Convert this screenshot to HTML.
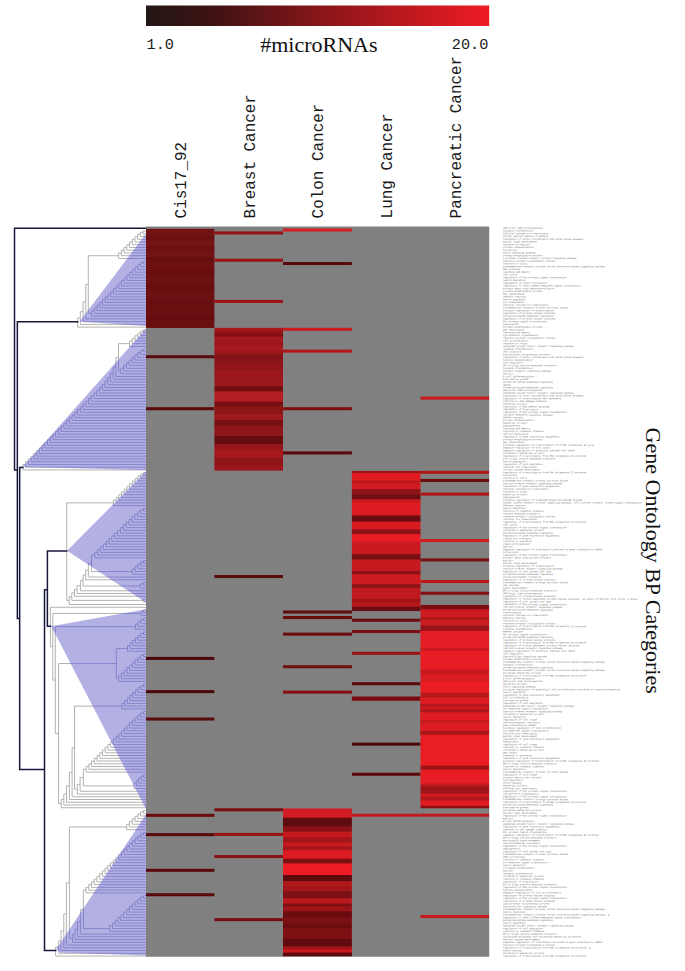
<!DOCTYPE html>
<html lang="en"><head><meta charset="utf-8"><title>microRNA target GO BP heatmap</title>
<style>html,body{margin:0;padding:0;background:#fff}body{width:685px;height:971px;overflow:hidden}svg{display:block}.m{font-family:"Liberation Mono","DejaVu Sans Mono",monospace;fill:#1a1a1a}.s{font-family:"Liberation Serif","DejaVu Serif",serif;fill:#111}.t{font-family:"Liberation Mono","DejaVu Sans Mono",monospace;font-size:23.8px;fill:#585858}</style></head><body>
<svg width="685" height="971" viewBox="0 0 685 971">
<defs><linearGradient id="cb" x1="0" y1="0" x2="1" y2="0"><stop offset="0" stop-color="#221715"/><stop offset="0.2" stop-color="#3f1213"/><stop offset="0.5" stop-color="#861619"/><stop offset="1" stop-color="#ed1c24"/></linearGradient>
<clipPath id="tc"><polygon points="79.6,321.5 146.0,233.8 146.0,326.0"/><polygon points="22.9,467.0 146.0,328.6 146.0,470.0"/><polygon points="67.1,550.8 146.0,471.2 146.0,602.6"/><polygon points="51.3,626.3 146.0,609.3 146.0,809.0"/><polygon points="56.2,949.3 146.0,814.5 146.0,955.6 60.0,952.5"/></clipPath>
<clipPath id="hc"><rect x="146" y="226.7" width="343.2" height="729.8"/></clipPath>
</defs>
<rect width="685" height="971" fill="#fff"/>
<rect x="146" y="5.5" width="343.2" height="20.5" fill="url(#cb)"/>
<text class="m" x="146.6" y="49" font-size="15.2">1.0</text>
<text class="m" x="451.8" y="49" font-size="15.2">20.0</text>
<text class="s" x="260.2" y="52.2" font-size="22">#microRNAs</text>
<text class="m" font-size="15.95" transform="translate(185.5,218.4) rotate(-90)">Cis17_92</text>
<text class="m" font-size="15.95" transform="translate(254.6,218.4) rotate(-90)">Breast Cancer</text>
<text class="m" font-size="15.95" transform="translate(323.4,218.4) rotate(-90)">Colon Cancer</text>
<text class="m" font-size="15.95" transform="translate(392.3,218.4) rotate(-90)">Lung Cancer</text>
<text class="m" font-size="15.95" transform="translate(460.6,218.4) rotate(-90)">Pancreatic Cancer</text>
<text class="s" font-size="22" transform="translate(646.4,427.6) rotate(90)">Gene Ontology BP Categories</text>
<path d="M77.60 318.02L77.60 327.12M77.60 318.02L80.30 318.02M80.30 311.67L80.30 324.37M80.30 311.67L83.10 311.67M83.10 301.72L83.10 321.63M83.10 301.72L85.80 301.72M85.80 284.55L85.80 318.88M85.80 284.55L88.30 284.55M88.30 255.72L88.30 313.39M88.30 255.72L118.60 255.72M118.60 252.97L118.60 258.46M118.60 252.97L121.31 252.97M121.31 250.23L121.31 255.71M121.31 250.23L124.02 250.23M124.02 247.50L124.02 252.97M124.02 247.50L126.73 247.50M126.73 244.77L126.73 250.22M126.73 244.77L129.44 244.77M129.44 242.07L129.44 247.47M129.44 242.07L132.16 242.07M132.16 239.41L132.16 244.73M132.16 239.41L134.87 239.41M134.87 236.83L134.87 241.98M134.87 236.83L137.58 236.83M137.58 234.43L137.58 239.24M137.58 234.43L140.29 234.43M140.29 232.37L140.29 236.49M140.29 232.37L143.00 232.37M143.00 231.00L143.00 233.74M143.00 231.00L146.00 231.00M143.00 233.74L146.00 233.74M140.29 236.49L146.00 236.49M137.58 239.24L146.00 239.24M134.87 241.98L146.00 241.98M132.16 244.73L146.00 244.73M129.44 247.47L146.00 247.47M126.73 250.22L146.00 250.22M124.02 252.97L146.00 252.97M121.31 255.71L146.00 255.71M118.60 258.46L146.00 258.46M88.30 313.39L91.60 313.39M91.60 310.64L91.60 316.13M91.60 310.64L94.32 310.64M94.32 307.90L94.32 313.39M94.32 307.90L97.04 307.90M97.04 305.15L97.04 310.64M97.04 305.15L99.76 305.15M99.76 302.40L99.76 307.90M99.76 302.40L102.48 302.40M102.48 299.66L102.48 305.15M102.48 299.66L105.21 299.66M105.21 296.91L105.21 302.40M105.21 296.91L107.93 296.91M107.93 294.16L107.93 299.66M107.93 294.16L110.65 294.16M110.65 291.42L110.65 296.91M110.65 291.42L113.37 291.42M113.37 288.67L113.37 294.16M113.37 288.67L116.09 288.67M116.09 285.93L116.09 291.42M116.09 285.93L118.81 285.93M118.81 283.18L118.81 288.67M118.81 283.18L121.53 283.18M121.53 280.44L121.53 285.92M121.53 280.44L124.25 280.44M124.25 277.71L124.25 283.18M124.25 277.71L126.97 277.71M126.97 274.98L126.97 280.43M126.97 274.98L129.69 274.98M129.69 272.28L129.69 277.69M129.69 272.28L132.42 272.28M132.42 269.62L132.42 274.94M132.42 269.62L135.14 269.62M135.14 267.04L135.14 272.19M135.14 267.04L137.86 267.04M137.86 264.64L137.86 269.45M137.86 264.64L140.58 264.64M140.58 262.58L140.58 266.70M140.58 262.58L143.30 262.58M143.30 261.21L143.30 263.95M143.30 261.21L146.00 261.21M143.30 263.95L146.00 263.95M140.58 266.70L146.00 266.70M137.86 269.45L146.00 269.45M135.14 272.19L146.00 272.19M132.42 274.94L146.00 274.94M129.69 277.69L146.00 277.69M126.97 280.43L146.00 280.43M124.25 283.18L146.00 283.18M121.53 285.92L146.00 285.92M118.81 288.67L146.00 288.67M116.09 291.42L146.00 291.42M113.37 294.16L146.00 294.16M110.65 296.91L146.00 296.91M107.93 299.66L146.00 299.66M105.21 302.40L146.00 302.40M102.48 305.15L146.00 305.15M99.76 307.90L146.00 307.90M97.04 310.64L146.00 310.64M94.32 313.39L146.00 313.39M91.60 316.13L146.00 316.13M85.80 318.88L146.00 318.88M83.10 321.63L146.00 321.63M80.30 324.37L146.00 324.37M77.60 327.12L146.00 327.12M22.90 464.44L22.90 469.93M22.90 464.44L25.64 464.44M25.64 461.69L25.64 467.19M25.64 461.69L28.37 461.69M28.37 458.95L28.37 464.44M28.37 458.95L31.11 458.95M31.11 456.20L31.11 461.69M31.11 456.20L33.84 456.20M33.84 453.45L33.84 458.95M33.84 453.45L36.58 453.45M36.58 450.71L36.58 456.20M36.58 450.71L39.31 450.71M39.31 447.96L39.31 453.45M39.31 447.96L42.05 447.96M42.05 445.22L42.05 450.71M42.05 445.22L44.78 445.22M44.78 442.47L44.78 447.96M44.78 442.47L47.52 442.47M47.52 439.72L47.52 445.22M47.52 439.72L50.25 439.72M50.25 436.98L50.25 442.47M50.25 436.98L52.99 436.98M52.99 434.23L52.99 439.72M52.99 434.23L55.72 434.23M55.72 431.48L55.72 436.98M55.72 431.48L58.46 431.48M58.46 428.74L58.46 434.23M58.46 428.74L61.19 428.74M61.19 425.99L61.19 431.48M61.19 425.99L63.93 425.99M63.93 423.24L63.93 428.74M63.93 423.24L66.66 423.24M66.66 420.50L66.66 425.99M66.66 420.50L69.40 420.50M69.40 417.75L69.40 423.24M69.40 417.75L72.14 417.75M72.14 415.00L72.14 420.50M72.14 415.00L74.87 415.00M74.87 412.26L74.87 417.75M74.87 412.26L77.61 412.26M77.61 409.51L77.61 415.01M77.61 409.51L80.34 409.51M80.34 406.76L80.34 412.26M80.34 406.76L83.08 406.76M83.08 404.02L83.08 409.51M83.08 404.02L85.81 404.02M85.81 401.27L85.81 406.77M85.81 401.27L88.55 401.27M88.55 398.51L88.55 404.02M88.55 398.51L91.28 398.51M91.28 395.75L91.28 401.27M91.28 395.75L94.02 395.75M94.02 392.98L94.02 398.53M94.02 392.98L96.75 392.98M96.75 390.18L96.75 395.78M96.75 390.18L99.49 390.18M99.49 387.33L99.49 393.03M99.49 387.33L102.22 387.33M102.22 384.37L102.22 390.29M102.22 384.37L104.96 384.37M104.96 381.19L104.96 387.54M104.96 381.19L107.69 381.19M107.69 377.59L107.69 384.79M107.69 377.59L110.43 377.59M110.43 373.13L110.43 382.05M110.43 373.13L113.16 373.13M113.16 366.96L113.16 379.30M113.16 366.96L115.90 366.96M115.90 357.35L115.90 376.56M115.90 357.35L118.50 357.35M118.50 343.64L118.50 371.07M118.50 343.64L129.50 343.64M129.50 340.94L129.50 346.35M129.50 340.94L132.28 340.94M132.28 338.28L132.28 343.60M132.28 338.28L135.06 338.28M135.06 335.70L135.06 340.85M135.06 335.70L137.84 335.70M137.84 333.30L137.84 338.11M137.84 333.30L140.62 333.30M140.62 331.24L140.62 335.36M140.62 331.24L143.40 331.24M143.40 329.87L143.40 332.61M143.40 329.87L146.00 329.87M143.40 332.61L146.00 332.61M140.62 335.36L146.00 335.36M137.84 338.11L146.00 338.11M135.06 340.85L146.00 340.85M132.28 343.60L146.00 343.60M129.50 346.35L146.00 346.35M118.50 371.07L120.70 371.07M120.70 368.33L120.70 373.81M120.70 368.33L123.53 368.33M123.53 365.59L123.53 371.06M123.53 365.59L126.35 365.59M126.35 362.87L126.35 368.32M126.35 362.87L129.18 362.87M129.18 360.16L129.18 365.57M129.18 360.16L132.00 360.16M132.00 357.50L132.00 362.82M132.00 357.50L134.83 357.50M134.83 354.93L134.83 360.08M134.83 354.93L137.65 354.93M137.65 352.52L137.65 357.33M137.65 352.52L140.48 352.52M140.48 350.46L140.48 354.58M140.48 350.46L143.30 350.46M143.30 349.09L143.30 351.84M143.30 349.09L146.00 349.09M143.30 351.84L146.00 351.84M140.48 354.58L146.00 354.58M137.65 357.33L146.00 357.33M134.83 360.08L146.00 360.08M132.00 362.82L146.00 362.82M129.18 365.57L146.00 365.57M126.35 368.32L146.00 368.32M123.53 371.06L146.00 371.06M120.70 373.81L146.00 373.81M115.90 376.56L146.00 376.56M113.16 379.30L146.00 379.30M110.43 382.05L146.00 382.05M107.69 384.79L146.00 384.79M104.96 387.54L146.00 387.54M102.22 390.29L146.00 390.29M99.49 393.03L146.00 393.03M96.75 395.78L146.00 395.78M94.02 398.53L146.00 398.53M91.28 401.27L146.00 401.27M88.55 404.02L146.00 404.02M85.81 406.77L146.00 406.77M83.08 409.51L146.00 409.51M80.34 412.26L146.00 412.26M77.61 415.01L146.00 415.01M74.87 417.75L146.00 417.75M72.14 420.50L146.00 420.50M69.40 423.24L146.00 423.24M66.66 425.99L146.00 425.99M63.93 428.74L146.00 428.74M61.19 431.48L146.00 431.48M58.46 434.23L146.00 434.23M55.72 436.98L146.00 436.98M52.99 439.72L146.00 439.72M50.25 442.47L146.00 442.47M47.52 445.22L146.00 445.22M44.78 447.96L146.00 447.96M42.05 450.71L146.00 450.71M39.31 453.45L146.00 453.45M36.58 456.20L146.00 456.20M33.84 458.95L146.00 458.95M31.11 461.69L146.00 461.69M28.37 464.44L146.00 464.44M25.64 467.19L146.00 467.19M22.90 469.93L146.00 469.93M66.70 502.89L66.70 600.58M66.70 502.89L113.40 502.89M113.40 500.14L113.40 505.64M113.40 500.14L116.11 500.14M116.11 497.40L116.11 502.89M116.11 497.40L118.82 497.40M118.82 494.66L118.82 500.14M118.82 494.66L121.53 494.66M121.53 491.92L121.53 497.40M121.53 491.92L124.24 491.92M124.24 489.18L124.24 494.65M124.24 489.18L126.95 489.18M126.95 486.45L126.95 491.90M126.95 486.45L129.65 486.45M129.65 483.75L129.65 489.16M129.65 483.75L132.36 483.75M132.36 481.09L132.36 486.41M132.36 481.09L135.07 481.09M135.07 478.52L135.07 483.67M135.07 478.52L137.78 478.52M137.78 476.11L137.78 480.92M137.78 476.11L140.49 476.11M140.49 474.05L140.49 478.17M140.49 474.05L143.20 474.05M143.20 472.68L143.20 475.43M143.20 472.68L146.00 472.68M143.20 475.43L146.00 475.43M140.49 478.17L146.00 478.17M137.78 480.92L146.00 480.92M135.07 483.67L146.00 483.67M132.36 486.41L146.00 486.41M129.65 489.16L146.00 489.16M126.95 491.90L146.00 491.90M124.24 494.65L146.00 494.65M121.53 497.40L146.00 497.40M118.82 500.14L146.00 500.14M116.11 502.89L146.00 502.89M113.40 505.64L146.00 505.64M66.70 600.58L69.20 600.58M69.20 596.65L69.20 604.51M69.20 596.65L71.80 596.65M71.80 592.92L71.80 600.39M71.80 592.92L74.50 592.92M74.50 589.57L74.50 596.27M74.50 589.57L77.10 589.57M77.10 585.63L77.10 593.52M77.10 585.63L80.40 585.63M80.40 580.48L80.40 590.77M80.40 580.48L83.00 580.48M83.00 574.99L83.00 585.97M83.00 574.99L85.60 574.99M85.60 570.20L85.60 579.79M85.60 570.20L88.30 570.20M88.30 563.35L88.30 577.04M88.30 563.35L91.60 563.35M91.60 555.07L91.60 571.64M91.60 555.07L94.80 555.07M94.80 552.33L94.80 557.82M94.80 552.33L97.65 552.33M97.65 549.58L97.65 555.07M97.65 549.58L100.51 549.58M100.51 546.83L100.51 552.33M100.51 546.83L103.36 546.83M103.36 544.09L103.36 549.58M103.36 544.09L106.21 544.09M106.21 541.34L106.21 546.83M106.21 541.34L109.06 541.34M109.06 538.59L109.06 544.09M109.06 538.59L111.92 538.59M111.92 535.85L111.92 541.34M111.92 535.85L114.77 535.85M114.77 533.10L114.77 538.59M114.77 533.10L117.62 533.10M117.62 530.36L117.62 535.85M117.62 530.36L120.48 530.36M120.48 527.62L120.48 533.10M120.48 527.62L123.33 527.62M123.33 524.88L123.33 530.35M123.33 524.88L126.18 524.88M126.18 522.16L126.18 527.61M126.18 522.16L129.04 522.16M129.04 519.45L129.04 524.86M129.04 519.45L131.89 519.45M131.89 516.79L131.89 522.11M131.89 516.79L134.74 516.79M134.74 514.22L134.74 519.37M134.74 514.22L137.59 514.22M137.59 511.82L137.59 516.62M137.59 511.82L140.45 511.82M140.45 509.76L140.45 513.88M140.45 509.76L143.30 509.76M143.30 508.38L143.30 511.13M143.30 508.38L146.00 508.38M143.30 511.13L146.00 511.13M140.45 513.88L146.00 513.88M137.59 516.62L146.00 516.62M134.74 519.37L146.00 519.37M131.89 522.11L146.00 522.11M129.04 524.86L146.00 524.86M126.18 527.61L146.00 527.61M123.33 530.35L146.00 530.35M120.48 533.10L146.00 533.10M117.62 535.85L146.00 535.85M114.77 538.59L146.00 538.59M111.92 541.34L146.00 541.34M109.06 544.09L146.00 544.09M106.21 546.83L146.00 546.83M103.36 549.58L146.00 549.58M100.51 552.33L146.00 552.33M97.65 555.07L146.00 555.07M94.80 557.82L146.00 557.82M91.60 571.64L132.30 571.64M132.30 568.98L132.30 574.30M132.30 568.98L135.05 568.98M135.05 566.40L135.05 571.55M135.05 566.40L137.80 566.40M137.80 564.00L137.80 568.80M137.80 564.00L140.55 564.00M140.55 561.94L140.55 566.06M140.55 561.94L143.30 561.94M143.30 560.56L143.30 563.31M143.30 560.56L146.00 560.56M143.30 563.31L146.00 563.31M140.55 566.06L146.00 566.06M137.80 568.80L146.00 568.80M135.05 571.55L146.00 571.55M132.30 574.30L146.00 574.30M88.30 577.04L146.00 577.04M85.60 579.79L146.00 579.79M83.00 585.97L140.20 585.97M140.20 583.91L140.20 588.03M140.20 583.91L143.30 583.91M143.30 582.54L143.30 585.28M143.30 582.54L146.00 582.54M143.30 585.28L146.00 585.28M140.20 588.03L146.00 588.03M80.40 590.77L146.00 590.77M77.10 593.52L146.00 593.52M74.50 596.27L146.00 596.27M71.80 600.39L143.30 600.39M143.30 599.01L143.30 601.76M143.30 599.01L146.00 599.01M143.30 601.76L146.00 601.76M69.20 604.51L146.00 604.51M50.40 607.25L50.40 646.78M50.40 607.25L146.00 607.25M50.40 646.78L52.80 646.78M52.80 613.43L52.80 680.12M52.80 613.43L141.20 613.43M141.20 611.37L141.20 615.49M141.20 611.37L143.30 611.37M143.30 610.00L143.30 612.75M143.30 610.00L146.00 610.00M143.30 612.75L146.00 612.75M141.20 615.49L146.00 615.49M52.80 680.12L55.30 680.12M55.30 626.65L55.30 733.60M55.30 626.65L135.50 626.65M135.50 624.07L135.50 629.22M135.50 624.07L138.10 624.07M138.10 621.67L138.10 626.48M138.10 621.67L140.70 621.67M140.70 619.61L140.70 623.73M140.70 619.61L143.30 619.61M143.30 618.24L143.30 620.99M143.30 618.24L146.00 618.24M143.30 620.99L146.00 620.99M140.70 623.73L146.00 623.73M138.10 626.48L146.00 626.48M135.50 629.22L146.00 629.22M55.30 733.60L58.50 733.60M58.50 663.57L58.50 803.63M58.50 663.57L116.30 663.57M116.30 648.47L116.30 678.66M116.30 648.47L127.50 648.47M127.50 645.75L127.50 651.20M127.50 645.75L130.13 645.75M130.13 643.04L130.13 648.45M130.13 643.04L132.77 643.04M132.77 640.38L132.77 645.70M132.77 640.38L135.40 640.38M135.40 637.81L135.40 642.96M135.40 637.81L138.03 637.81M138.03 635.40L138.03 640.21M138.03 635.40L140.67 635.40M140.67 633.34L140.67 637.46M140.67 633.34L143.30 633.34M143.30 631.97L143.30 634.72M143.30 631.97L146.00 631.97M143.30 634.72L146.00 634.72M140.67 637.46L146.00 637.46M138.03 640.21L146.00 640.21M135.40 642.96L146.00 642.96M132.77 645.70L146.00 645.70M130.13 648.45L146.00 648.45M127.50 651.20L146.00 651.20M116.30 678.66L118.70 678.66M118.70 675.92L118.70 681.41M118.70 675.92L121.43 675.92M121.43 673.18L121.43 678.66M121.43 673.18L124.17 673.18M124.17 670.44L124.17 675.91M124.17 670.44L126.90 670.44M126.90 667.72L126.90 673.17M126.90 667.72L129.63 667.72M129.63 665.01L129.63 670.42M129.63 665.01L132.37 665.01M132.37 662.35L132.37 667.67M132.37 662.35L135.10 662.35M135.10 659.78L135.10 664.93M135.10 659.78L137.83 659.78M137.83 657.38L137.83 662.18M137.83 657.38L140.57 657.38M140.57 655.32L140.57 659.43M140.57 655.32L143.30 655.32M143.30 653.94L143.30 656.69M143.30 653.94L146.00 653.94M143.30 656.69L146.00 656.69M140.57 659.43L146.00 659.43M137.83 662.18L146.00 662.18M135.10 664.93L146.00 664.93M132.37 667.67L146.00 667.67M129.63 670.42L146.00 670.42M126.90 673.17L146.00 673.17M124.17 675.91L146.00 675.91M121.43 678.66L146.00 678.66M118.70 681.41L146.00 681.41M58.50 803.63L61.20 803.63M61.20 799.52L61.20 807.74M61.20 799.52L63.80 799.52M63.80 794.05L63.80 804.99M63.80 794.05L66.50 794.05M66.50 785.86L66.50 802.25M66.50 785.86L69.40 785.86M69.40 772.21L69.40 799.50M69.40 772.21L72.10 772.21M72.10 747.67L72.10 796.75M72.10 747.67L74.50 747.67M74.50 706.13L74.50 789.21M74.50 706.13L121.90 706.13M121.90 703.39L121.90 708.87M121.90 703.39L124.58 703.39M124.58 700.65L124.58 706.12M124.58 700.65L127.25 700.65M127.25 697.93L127.25 703.38M127.25 697.93L129.93 697.93M129.93 695.22L129.93 700.63M129.93 695.22L132.60 695.22M132.60 692.56L132.60 697.88M132.60 692.56L135.28 692.56M135.28 689.99L135.28 695.14M135.28 689.99L137.95 689.99M137.95 687.59L137.95 692.39M137.95 687.59L140.62 687.59M140.62 685.53L140.62 689.65M140.62 685.53L143.30 685.53M143.30 684.15L143.30 686.90M143.30 684.15L146.00 684.15M143.30 686.90L146.00 686.90M140.62 689.65L146.00 689.65M137.95 692.39L146.00 692.39M135.28 695.14L146.00 695.14M132.60 697.88L146.00 697.88M129.93 700.63L146.00 700.63M127.25 703.38L146.00 703.38M124.58 706.12L146.00 706.12M121.90 708.87L146.00 708.87M74.50 789.21L77.30 789.21M77.30 784.42L77.30 794.01M77.30 784.42L80.10 784.42M80.10 777.57L80.10 791.26M80.10 777.57L83.40 777.57M83.40 769.29L83.40 785.86M83.40 769.29L86.20 769.29M86.20 766.54L86.20 772.04M86.20 766.54L88.92 766.54M88.92 763.80L88.92 769.29M88.92 763.80L91.64 763.80M91.64 761.05L91.64 766.54M91.64 761.05L94.36 761.05M94.36 758.31L94.36 763.80M94.36 758.31L97.08 758.31M97.08 755.56L97.08 761.05M97.08 755.56L99.80 755.56M99.80 752.81L99.80 758.31M99.80 752.81L102.51 752.81M102.51 750.07L102.51 755.56M102.51 750.07L105.23 750.07M105.23 747.32L105.23 752.81M105.23 747.32L107.95 747.32M107.95 744.57L107.95 750.07M107.95 744.57L110.67 744.57M110.67 741.83L110.67 747.32M110.67 741.83L113.39 741.83M113.39 739.08L113.39 744.57M113.39 739.08L116.11 739.08M116.11 736.34L116.11 741.83M116.11 736.34L118.83 736.34M118.83 733.59L118.83 739.08M118.83 733.59L121.55 733.59M121.55 730.85L121.55 736.33M121.55 730.85L124.27 730.85M124.27 728.12L124.27 733.59M124.27 728.12L126.99 728.12M126.99 725.39L126.99 730.84M126.99 725.39L129.70 725.39M129.70 722.69L129.70 728.09M129.70 722.69L132.42 722.69M132.42 720.03L132.42 725.35M132.42 720.03L135.14 720.03M135.14 717.45L135.14 722.60M135.14 717.45L137.86 717.45M137.86 715.05L137.86 719.86M137.86 715.05L140.58 715.05M140.58 712.99L140.58 717.11M140.58 712.99L143.30 712.99M143.30 711.62L143.30 714.36M143.30 711.62L146.00 711.62M143.30 714.36L146.00 714.36M140.58 717.11L146.00 717.11M137.86 719.86L146.00 719.86M135.14 722.60L146.00 722.60M132.42 725.35L146.00 725.35M129.70 728.09L146.00 728.09M126.99 730.84L146.00 730.84M124.27 733.59L146.00 733.59M121.55 736.33L146.00 736.33M118.83 739.08L146.00 739.08M116.11 741.83L146.00 741.83M113.39 744.57L146.00 744.57M110.67 747.32L146.00 747.32M107.95 750.07L146.00 750.07M105.23 752.81L146.00 752.81M102.51 755.56L146.00 755.56M99.80 758.31L146.00 758.31M97.08 761.05L146.00 761.05M94.36 763.80L146.00 763.80M91.64 766.54L146.00 766.54M88.92 769.29L146.00 769.29M86.20 772.04L146.00 772.04M83.40 785.86L134.00 785.86M134.00 783.19L134.00 788.52M134.00 783.19L136.32 783.19M136.32 780.62L136.32 785.77M136.32 780.62L138.65 780.62M138.65 778.22L138.65 783.02M138.65 778.22L140.98 778.22M140.98 776.16L140.98 780.28M140.98 776.16L143.30 776.16M143.30 774.78L143.30 777.53M143.30 774.78L146.00 774.78M143.30 777.53L146.00 777.53M140.98 780.28L146.00 780.28M138.65 783.02L146.00 783.02M136.32 785.77L146.00 785.77M134.00 788.52L146.00 788.52M80.10 791.26L146.00 791.26M77.30 794.01L146.00 794.01M72.10 796.75L146.00 796.75M69.40 799.50L146.00 799.50M66.50 802.25L146.00 802.25M63.80 804.99L146.00 804.99M61.20 807.74L146.00 807.74M55.60 947.00L55.60 956.05M55.60 947.00L58.70 947.00M58.70 940.70L58.70 953.30M58.70 940.70L61.00 940.70M61.00 930.84L61.00 950.55M61.00 930.84L63.80 930.84M63.80 913.87L63.80 947.81M63.80 913.87L66.40 913.87M66.40 882.68L66.40 945.06M66.40 882.68L69.40 882.68M69.40 826.99L69.40 938.37M69.40 826.99L126.70 826.99M126.70 824.26L126.70 829.71M126.70 824.26L129.47 824.26M129.47 821.56L129.47 826.97M129.47 821.56L132.23 821.56M132.23 818.90L132.23 824.22M132.23 818.90L135.00 818.90M135.00 816.32L135.00 821.47M135.00 816.32L137.77 816.32M137.77 813.92L137.77 818.73M137.77 813.92L140.53 813.92M140.53 811.86L140.53 815.98M140.53 811.86L143.30 811.86M143.30 810.49L143.30 813.23M143.30 810.49L146.00 810.49M143.30 813.23L146.00 813.23M140.53 815.98L146.00 815.98M137.77 818.73L146.00 818.73M135.00 821.47L146.00 821.47M132.23 824.22L146.00 824.22M129.47 826.97L146.00 826.97M126.70 829.71L146.00 829.71M69.40 938.37L72.50 938.37M72.50 934.42L72.50 942.31M72.50 934.42L75.00 934.42M75.00 929.27L75.00 939.57M75.00 929.27L77.60 929.27M77.60 921.72L77.60 936.82M77.60 921.72L80.40 921.72M80.40 909.36L80.40 934.07M80.40 909.36L83.40 909.36M83.40 890.13L83.40 928.58M83.40 890.13L86.00 890.13M86.00 887.39L86.00 892.88M86.00 887.39L88.73 887.39M88.73 884.64L88.73 890.13M88.73 884.64L91.46 884.64M91.46 881.89L91.46 887.39M91.46 881.89L94.19 881.89M94.19 879.15L94.19 884.64M94.19 879.15L96.91 879.15M96.91 876.40L96.91 881.89M96.91 876.40L99.64 876.40M99.64 873.65L99.64 879.15M99.64 873.65L102.37 873.65M102.37 870.91L102.37 876.40M102.37 870.91L105.10 870.91M105.10 868.16L105.10 873.65M105.10 868.16L107.83 868.16M107.83 865.42L107.83 870.91M107.83 865.42L110.56 865.42M110.56 862.67L110.56 868.16M110.56 862.67L113.29 862.67M113.29 859.92L113.29 865.41M113.29 859.92L116.01 859.92M116.01 857.18L116.01 862.67M116.01 857.18L118.74 857.18M118.74 854.43L118.74 859.92M118.74 854.43L121.47 854.43M121.47 851.69L121.47 857.18M121.47 851.69L124.20 851.69M124.20 848.96L124.20 854.43M124.20 848.96L126.93 848.96M126.93 846.23L126.93 851.68M126.93 846.23L129.66 846.23M129.66 843.53L129.66 848.94M129.66 843.53L132.39 843.53M132.39 840.87L132.39 846.19M132.39 840.87L135.11 840.87M135.11 838.29L135.11 843.44M135.11 838.29L137.84 838.29M137.84 835.89L137.84 840.70M137.84 835.89L140.57 835.89M140.57 833.83L140.57 837.95M140.57 833.83L143.30 833.83M143.30 832.46L143.30 835.20M143.30 832.46L146.00 832.46M143.30 835.20L146.00 835.20M140.57 837.95L146.00 837.95M137.84 840.70L146.00 840.70M135.11 843.44L146.00 843.44M132.39 846.19L146.00 846.19M129.66 848.94L146.00 848.94M126.93 851.68L146.00 851.68M124.20 854.43L146.00 854.43M121.47 857.18L146.00 857.18M118.74 859.92L146.00 859.92M116.01 862.67L146.00 862.67M113.29 865.41L146.00 865.41M110.56 868.16L146.00 868.16M107.83 870.91L146.00 870.91M105.10 873.65L146.00 873.65M102.37 876.40L146.00 876.40M99.64 879.15L146.00 879.15M96.91 881.89L146.00 881.89M94.19 884.64L146.00 884.64M91.46 887.39L146.00 887.39M88.73 890.13L146.00 890.13M86.00 892.88L146.00 892.88M83.40 928.58L109.70 928.58M109.70 925.84L109.70 931.33M109.70 925.84L112.50 925.84M112.50 923.09L112.50 928.58M112.50 923.09L115.30 923.09M115.30 920.35L115.30 925.84M115.30 920.35L118.10 920.35M118.10 917.60L118.10 923.09M118.10 917.60L120.90 917.60M120.90 914.86L120.90 920.34M120.90 914.86L123.70 914.86M123.70 912.13L123.70 917.60M123.70 912.13L126.50 912.13M126.50 909.40L126.50 914.85M126.50 909.40L129.30 909.40M129.30 906.70L129.30 912.10M129.30 906.70L132.10 906.70M132.10 904.04L132.10 909.36M132.10 904.04L134.90 904.04M134.90 901.46L134.90 906.61M134.90 901.46L137.70 901.46M137.70 899.06L137.70 903.86M137.70 899.06L140.50 899.06M140.50 897.00L140.50 901.12M140.50 897.00L143.30 897.00M143.30 895.63L143.30 898.37M143.30 895.63L146.00 895.63M143.30 898.37L146.00 898.37M140.50 901.12L146.00 901.12M137.70 903.86L146.00 903.86M134.90 906.61L146.00 906.61M132.10 909.36L146.00 909.36M129.30 912.10L146.00 912.10M126.50 914.85L146.00 914.85M123.70 917.60L146.00 917.60M120.90 920.34L146.00 920.34M118.10 923.09L146.00 923.09M115.30 925.84L146.00 925.84M112.50 928.58L146.00 928.58M109.70 931.33L146.00 931.33M80.40 934.07L146.00 934.07M77.60 936.82L146.00 936.82M75.00 939.57L146.00 939.57M72.50 942.31L146.00 942.31M66.40 945.06L146.00 945.06M63.80 947.81L146.00 947.81M61.00 950.55L146.00 950.55M58.70 953.30L146.00 953.30M55.60 956.05L146.00 956.05" fill="none" stroke="#b2b2ae" stroke-width="1"/>
<polygon points="79.6,321.5 146.0,233.8 146.0,326.0" fill="#b3b1e4"/>
<polygon points="22.9,467.0 146.0,328.6 146.0,470.0" fill="#b3b1e4"/>
<polygon points="67.1,550.8 146.0,471.2 146.0,602.6" fill="#b3b1e4"/>
<polygon points="51.3,626.3 146.0,609.3 146.0,809.0" fill="#b3b1e4"/>
<polygon points="56.2,949.3 146.0,814.5 146.0,955.6 60.0,952.5" fill="#b3b1e4"/>
<path d="M77.60 318.02L77.60 327.12M77.60 318.02L80.30 318.02M80.30 311.67L80.30 324.37M80.30 311.67L83.10 311.67M83.10 301.72L83.10 321.63M83.10 301.72L85.80 301.72M85.80 284.55L85.80 318.88M85.80 284.55L88.30 284.55M88.30 255.72L88.30 313.39M88.30 255.72L118.60 255.72M118.60 252.97L118.60 258.46M118.60 252.97L121.31 252.97M121.31 250.23L121.31 255.71M121.31 250.23L124.02 250.23M124.02 247.50L124.02 252.97M124.02 247.50L126.73 247.50M126.73 244.77L126.73 250.22M126.73 244.77L129.44 244.77M129.44 242.07L129.44 247.47M129.44 242.07L132.16 242.07M132.16 239.41L132.16 244.73M132.16 239.41L134.87 239.41M134.87 236.83L134.87 241.98M134.87 236.83L137.58 236.83M137.58 234.43L137.58 239.24M137.58 234.43L140.29 234.43M140.29 232.37L140.29 236.49M140.29 232.37L143.00 232.37M143.00 231.00L143.00 233.74M143.00 231.00L146.00 231.00M143.00 233.74L146.00 233.74M140.29 236.49L146.00 236.49M137.58 239.24L146.00 239.24M134.87 241.98L146.00 241.98M132.16 244.73L146.00 244.73M129.44 247.47L146.00 247.47M126.73 250.22L146.00 250.22M124.02 252.97L146.00 252.97M121.31 255.71L146.00 255.71M118.60 258.46L146.00 258.46M88.30 313.39L91.60 313.39M91.60 310.64L91.60 316.13M91.60 310.64L94.32 310.64M94.32 307.90L94.32 313.39M94.32 307.90L97.04 307.90M97.04 305.15L97.04 310.64M97.04 305.15L99.76 305.15M99.76 302.40L99.76 307.90M99.76 302.40L102.48 302.40M102.48 299.66L102.48 305.15M102.48 299.66L105.21 299.66M105.21 296.91L105.21 302.40M105.21 296.91L107.93 296.91M107.93 294.16L107.93 299.66M107.93 294.16L110.65 294.16M110.65 291.42L110.65 296.91M110.65 291.42L113.37 291.42M113.37 288.67L113.37 294.16M113.37 288.67L116.09 288.67M116.09 285.93L116.09 291.42M116.09 285.93L118.81 285.93M118.81 283.18L118.81 288.67M118.81 283.18L121.53 283.18M121.53 280.44L121.53 285.92M121.53 280.44L124.25 280.44M124.25 277.71L124.25 283.18M124.25 277.71L126.97 277.71M126.97 274.98L126.97 280.43M126.97 274.98L129.69 274.98M129.69 272.28L129.69 277.69M129.69 272.28L132.42 272.28M132.42 269.62L132.42 274.94M132.42 269.62L135.14 269.62M135.14 267.04L135.14 272.19M135.14 267.04L137.86 267.04M137.86 264.64L137.86 269.45M137.86 264.64L140.58 264.64M140.58 262.58L140.58 266.70M140.58 262.58L143.30 262.58M143.30 261.21L143.30 263.95M143.30 261.21L146.00 261.21M143.30 263.95L146.00 263.95M140.58 266.70L146.00 266.70M137.86 269.45L146.00 269.45M135.14 272.19L146.00 272.19M132.42 274.94L146.00 274.94M129.69 277.69L146.00 277.69M126.97 280.43L146.00 280.43M124.25 283.18L146.00 283.18M121.53 285.92L146.00 285.92M118.81 288.67L146.00 288.67M116.09 291.42L146.00 291.42M113.37 294.16L146.00 294.16M110.65 296.91L146.00 296.91M107.93 299.66L146.00 299.66M105.21 302.40L146.00 302.40M102.48 305.15L146.00 305.15M99.76 307.90L146.00 307.90M97.04 310.64L146.00 310.64M94.32 313.39L146.00 313.39M91.60 316.13L146.00 316.13M85.80 318.88L146.00 318.88M83.10 321.63L146.00 321.63M80.30 324.37L146.00 324.37M77.60 327.12L146.00 327.12M22.90 464.44L22.90 469.93M22.90 464.44L25.64 464.44M25.64 461.69L25.64 467.19M25.64 461.69L28.37 461.69M28.37 458.95L28.37 464.44M28.37 458.95L31.11 458.95M31.11 456.20L31.11 461.69M31.11 456.20L33.84 456.20M33.84 453.45L33.84 458.95M33.84 453.45L36.58 453.45M36.58 450.71L36.58 456.20M36.58 450.71L39.31 450.71M39.31 447.96L39.31 453.45M39.31 447.96L42.05 447.96M42.05 445.22L42.05 450.71M42.05 445.22L44.78 445.22M44.78 442.47L44.78 447.96M44.78 442.47L47.52 442.47M47.52 439.72L47.52 445.22M47.52 439.72L50.25 439.72M50.25 436.98L50.25 442.47M50.25 436.98L52.99 436.98M52.99 434.23L52.99 439.72M52.99 434.23L55.72 434.23M55.72 431.48L55.72 436.98M55.72 431.48L58.46 431.48M58.46 428.74L58.46 434.23M58.46 428.74L61.19 428.74M61.19 425.99L61.19 431.48M61.19 425.99L63.93 425.99M63.93 423.24L63.93 428.74M63.93 423.24L66.66 423.24M66.66 420.50L66.66 425.99M66.66 420.50L69.40 420.50M69.40 417.75L69.40 423.24M69.40 417.75L72.14 417.75M72.14 415.00L72.14 420.50M72.14 415.00L74.87 415.00M74.87 412.26L74.87 417.75M74.87 412.26L77.61 412.26M77.61 409.51L77.61 415.01M77.61 409.51L80.34 409.51M80.34 406.76L80.34 412.26M80.34 406.76L83.08 406.76M83.08 404.02L83.08 409.51M83.08 404.02L85.81 404.02M85.81 401.27L85.81 406.77M85.81 401.27L88.55 401.27M88.55 398.51L88.55 404.02M88.55 398.51L91.28 398.51M91.28 395.75L91.28 401.27M91.28 395.75L94.02 395.75M94.02 392.98L94.02 398.53M94.02 392.98L96.75 392.98M96.75 390.18L96.75 395.78M96.75 390.18L99.49 390.18M99.49 387.33L99.49 393.03M99.49 387.33L102.22 387.33M102.22 384.37L102.22 390.29M102.22 384.37L104.96 384.37M104.96 381.19L104.96 387.54M104.96 381.19L107.69 381.19M107.69 377.59L107.69 384.79M107.69 377.59L110.43 377.59M110.43 373.13L110.43 382.05M110.43 373.13L113.16 373.13M113.16 366.96L113.16 379.30M113.16 366.96L115.90 366.96M115.90 357.35L115.90 376.56M115.90 357.35L118.50 357.35M118.50 343.64L118.50 371.07M118.50 343.64L129.50 343.64M129.50 340.94L129.50 346.35M129.50 340.94L132.28 340.94M132.28 338.28L132.28 343.60M132.28 338.28L135.06 338.28M135.06 335.70L135.06 340.85M135.06 335.70L137.84 335.70M137.84 333.30L137.84 338.11M137.84 333.30L140.62 333.30M140.62 331.24L140.62 335.36M140.62 331.24L143.40 331.24M143.40 329.87L143.40 332.61M143.40 329.87L146.00 329.87M143.40 332.61L146.00 332.61M140.62 335.36L146.00 335.36M137.84 338.11L146.00 338.11M135.06 340.85L146.00 340.85M132.28 343.60L146.00 343.60M129.50 346.35L146.00 346.35M118.50 371.07L120.70 371.07M120.70 368.33L120.70 373.81M120.70 368.33L123.53 368.33M123.53 365.59L123.53 371.06M123.53 365.59L126.35 365.59M126.35 362.87L126.35 368.32M126.35 362.87L129.18 362.87M129.18 360.16L129.18 365.57M129.18 360.16L132.00 360.16M132.00 357.50L132.00 362.82M132.00 357.50L134.83 357.50M134.83 354.93L134.83 360.08M134.83 354.93L137.65 354.93M137.65 352.52L137.65 357.33M137.65 352.52L140.48 352.52M140.48 350.46L140.48 354.58M140.48 350.46L143.30 350.46M143.30 349.09L143.30 351.84M143.30 349.09L146.00 349.09M143.30 351.84L146.00 351.84M140.48 354.58L146.00 354.58M137.65 357.33L146.00 357.33M134.83 360.08L146.00 360.08M132.00 362.82L146.00 362.82M129.18 365.57L146.00 365.57M126.35 368.32L146.00 368.32M123.53 371.06L146.00 371.06M120.70 373.81L146.00 373.81M115.90 376.56L146.00 376.56M113.16 379.30L146.00 379.30M110.43 382.05L146.00 382.05M107.69 384.79L146.00 384.79M104.96 387.54L146.00 387.54M102.22 390.29L146.00 390.29M99.49 393.03L146.00 393.03M96.75 395.78L146.00 395.78M94.02 398.53L146.00 398.53M91.28 401.27L146.00 401.27M88.55 404.02L146.00 404.02M85.81 406.77L146.00 406.77M83.08 409.51L146.00 409.51M80.34 412.26L146.00 412.26M77.61 415.01L146.00 415.01M74.87 417.75L146.00 417.75M72.14 420.50L146.00 420.50M69.40 423.24L146.00 423.24M66.66 425.99L146.00 425.99M63.93 428.74L146.00 428.74M61.19 431.48L146.00 431.48M58.46 434.23L146.00 434.23M55.72 436.98L146.00 436.98M52.99 439.72L146.00 439.72M50.25 442.47L146.00 442.47M47.52 445.22L146.00 445.22M44.78 447.96L146.00 447.96M42.05 450.71L146.00 450.71M39.31 453.45L146.00 453.45M36.58 456.20L146.00 456.20M33.84 458.95L146.00 458.95M31.11 461.69L146.00 461.69M28.37 464.44L146.00 464.44M25.64 467.19L146.00 467.19M22.90 469.93L146.00 469.93M66.70 502.89L66.70 600.58M66.70 502.89L113.40 502.89M113.40 500.14L113.40 505.64M113.40 500.14L116.11 500.14M116.11 497.40L116.11 502.89M116.11 497.40L118.82 497.40M118.82 494.66L118.82 500.14M118.82 494.66L121.53 494.66M121.53 491.92L121.53 497.40M121.53 491.92L124.24 491.92M124.24 489.18L124.24 494.65M124.24 489.18L126.95 489.18M126.95 486.45L126.95 491.90M126.95 486.45L129.65 486.45M129.65 483.75L129.65 489.16M129.65 483.75L132.36 483.75M132.36 481.09L132.36 486.41M132.36 481.09L135.07 481.09M135.07 478.52L135.07 483.67M135.07 478.52L137.78 478.52M137.78 476.11L137.78 480.92M137.78 476.11L140.49 476.11M140.49 474.05L140.49 478.17M140.49 474.05L143.20 474.05M143.20 472.68L143.20 475.43M143.20 472.68L146.00 472.68M143.20 475.43L146.00 475.43M140.49 478.17L146.00 478.17M137.78 480.92L146.00 480.92M135.07 483.67L146.00 483.67M132.36 486.41L146.00 486.41M129.65 489.16L146.00 489.16M126.95 491.90L146.00 491.90M124.24 494.65L146.00 494.65M121.53 497.40L146.00 497.40M118.82 500.14L146.00 500.14M116.11 502.89L146.00 502.89M113.40 505.64L146.00 505.64M66.70 600.58L69.20 600.58M69.20 596.65L69.20 604.51M69.20 596.65L71.80 596.65M71.80 592.92L71.80 600.39M71.80 592.92L74.50 592.92M74.50 589.57L74.50 596.27M74.50 589.57L77.10 589.57M77.10 585.63L77.10 593.52M77.10 585.63L80.40 585.63M80.40 580.48L80.40 590.77M80.40 580.48L83.00 580.48M83.00 574.99L83.00 585.97M83.00 574.99L85.60 574.99M85.60 570.20L85.60 579.79M85.60 570.20L88.30 570.20M88.30 563.35L88.30 577.04M88.30 563.35L91.60 563.35M91.60 555.07L91.60 571.64M91.60 555.07L94.80 555.07M94.80 552.33L94.80 557.82M94.80 552.33L97.65 552.33M97.65 549.58L97.65 555.07M97.65 549.58L100.51 549.58M100.51 546.83L100.51 552.33M100.51 546.83L103.36 546.83M103.36 544.09L103.36 549.58M103.36 544.09L106.21 544.09M106.21 541.34L106.21 546.83M106.21 541.34L109.06 541.34M109.06 538.59L109.06 544.09M109.06 538.59L111.92 538.59M111.92 535.85L111.92 541.34M111.92 535.85L114.77 535.85M114.77 533.10L114.77 538.59M114.77 533.10L117.62 533.10M117.62 530.36L117.62 535.85M117.62 530.36L120.48 530.36M120.48 527.62L120.48 533.10M120.48 527.62L123.33 527.62M123.33 524.88L123.33 530.35M123.33 524.88L126.18 524.88M126.18 522.16L126.18 527.61M126.18 522.16L129.04 522.16M129.04 519.45L129.04 524.86M129.04 519.45L131.89 519.45M131.89 516.79L131.89 522.11M131.89 516.79L134.74 516.79M134.74 514.22L134.74 519.37M134.74 514.22L137.59 514.22M137.59 511.82L137.59 516.62M137.59 511.82L140.45 511.82M140.45 509.76L140.45 513.88M140.45 509.76L143.30 509.76M143.30 508.38L143.30 511.13M143.30 508.38L146.00 508.38M143.30 511.13L146.00 511.13M140.45 513.88L146.00 513.88M137.59 516.62L146.00 516.62M134.74 519.37L146.00 519.37M131.89 522.11L146.00 522.11M129.04 524.86L146.00 524.86M126.18 527.61L146.00 527.61M123.33 530.35L146.00 530.35M120.48 533.10L146.00 533.10M117.62 535.85L146.00 535.85M114.77 538.59L146.00 538.59M111.92 541.34L146.00 541.34M109.06 544.09L146.00 544.09M106.21 546.83L146.00 546.83M103.36 549.58L146.00 549.58M100.51 552.33L146.00 552.33M97.65 555.07L146.00 555.07M94.80 557.82L146.00 557.82M91.60 571.64L132.30 571.64M132.30 568.98L132.30 574.30M132.30 568.98L135.05 568.98M135.05 566.40L135.05 571.55M135.05 566.40L137.80 566.40M137.80 564.00L137.80 568.80M137.80 564.00L140.55 564.00M140.55 561.94L140.55 566.06M140.55 561.94L143.30 561.94M143.30 560.56L143.30 563.31M143.30 560.56L146.00 560.56M143.30 563.31L146.00 563.31M140.55 566.06L146.00 566.06M137.80 568.80L146.00 568.80M135.05 571.55L146.00 571.55M132.30 574.30L146.00 574.30M88.30 577.04L146.00 577.04M85.60 579.79L146.00 579.79M83.00 585.97L140.20 585.97M140.20 583.91L140.20 588.03M140.20 583.91L143.30 583.91M143.30 582.54L143.30 585.28M143.30 582.54L146.00 582.54M143.30 585.28L146.00 585.28M140.20 588.03L146.00 588.03M80.40 590.77L146.00 590.77M77.10 593.52L146.00 593.52M74.50 596.27L146.00 596.27M71.80 600.39L143.30 600.39M143.30 599.01L143.30 601.76M143.30 599.01L146.00 599.01M143.30 601.76L146.00 601.76M69.20 604.51L146.00 604.51M50.40 607.25L50.40 646.78M50.40 607.25L146.00 607.25M50.40 646.78L52.80 646.78M52.80 613.43L52.80 680.12M52.80 613.43L141.20 613.43M141.20 611.37L141.20 615.49M141.20 611.37L143.30 611.37M143.30 610.00L143.30 612.75M143.30 610.00L146.00 610.00M143.30 612.75L146.00 612.75M141.20 615.49L146.00 615.49M52.80 680.12L55.30 680.12M55.30 626.65L55.30 733.60M55.30 626.65L135.50 626.65M135.50 624.07L135.50 629.22M135.50 624.07L138.10 624.07M138.10 621.67L138.10 626.48M138.10 621.67L140.70 621.67M140.70 619.61L140.70 623.73M140.70 619.61L143.30 619.61M143.30 618.24L143.30 620.99M143.30 618.24L146.00 618.24M143.30 620.99L146.00 620.99M140.70 623.73L146.00 623.73M138.10 626.48L146.00 626.48M135.50 629.22L146.00 629.22M55.30 733.60L58.50 733.60M58.50 663.57L58.50 803.63M58.50 663.57L116.30 663.57M116.30 648.47L116.30 678.66M116.30 648.47L127.50 648.47M127.50 645.75L127.50 651.20M127.50 645.75L130.13 645.75M130.13 643.04L130.13 648.45M130.13 643.04L132.77 643.04M132.77 640.38L132.77 645.70M132.77 640.38L135.40 640.38M135.40 637.81L135.40 642.96M135.40 637.81L138.03 637.81M138.03 635.40L138.03 640.21M138.03 635.40L140.67 635.40M140.67 633.34L140.67 637.46M140.67 633.34L143.30 633.34M143.30 631.97L143.30 634.72M143.30 631.97L146.00 631.97M143.30 634.72L146.00 634.72M140.67 637.46L146.00 637.46M138.03 640.21L146.00 640.21M135.40 642.96L146.00 642.96M132.77 645.70L146.00 645.70M130.13 648.45L146.00 648.45M127.50 651.20L146.00 651.20M116.30 678.66L118.70 678.66M118.70 675.92L118.70 681.41M118.70 675.92L121.43 675.92M121.43 673.18L121.43 678.66M121.43 673.18L124.17 673.18M124.17 670.44L124.17 675.91M124.17 670.44L126.90 670.44M126.90 667.72L126.90 673.17M126.90 667.72L129.63 667.72M129.63 665.01L129.63 670.42M129.63 665.01L132.37 665.01M132.37 662.35L132.37 667.67M132.37 662.35L135.10 662.35M135.10 659.78L135.10 664.93M135.10 659.78L137.83 659.78M137.83 657.38L137.83 662.18M137.83 657.38L140.57 657.38M140.57 655.32L140.57 659.43M140.57 655.32L143.30 655.32M143.30 653.94L143.30 656.69M143.30 653.94L146.00 653.94M143.30 656.69L146.00 656.69M140.57 659.43L146.00 659.43M137.83 662.18L146.00 662.18M135.10 664.93L146.00 664.93M132.37 667.67L146.00 667.67M129.63 670.42L146.00 670.42M126.90 673.17L146.00 673.17M124.17 675.91L146.00 675.91M121.43 678.66L146.00 678.66M118.70 681.41L146.00 681.41M58.50 803.63L61.20 803.63M61.20 799.52L61.20 807.74M61.20 799.52L63.80 799.52M63.80 794.05L63.80 804.99M63.80 794.05L66.50 794.05M66.50 785.86L66.50 802.25M66.50 785.86L69.40 785.86M69.40 772.21L69.40 799.50M69.40 772.21L72.10 772.21M72.10 747.67L72.10 796.75M72.10 747.67L74.50 747.67M74.50 706.13L74.50 789.21M74.50 706.13L121.90 706.13M121.90 703.39L121.90 708.87M121.90 703.39L124.58 703.39M124.58 700.65L124.58 706.12M124.58 700.65L127.25 700.65M127.25 697.93L127.25 703.38M127.25 697.93L129.93 697.93M129.93 695.22L129.93 700.63M129.93 695.22L132.60 695.22M132.60 692.56L132.60 697.88M132.60 692.56L135.28 692.56M135.28 689.99L135.28 695.14M135.28 689.99L137.95 689.99M137.95 687.59L137.95 692.39M137.95 687.59L140.62 687.59M140.62 685.53L140.62 689.65M140.62 685.53L143.30 685.53M143.30 684.15L143.30 686.90M143.30 684.15L146.00 684.15M143.30 686.90L146.00 686.90M140.62 689.65L146.00 689.65M137.95 692.39L146.00 692.39M135.28 695.14L146.00 695.14M132.60 697.88L146.00 697.88M129.93 700.63L146.00 700.63M127.25 703.38L146.00 703.38M124.58 706.12L146.00 706.12M121.90 708.87L146.00 708.87M74.50 789.21L77.30 789.21M77.30 784.42L77.30 794.01M77.30 784.42L80.10 784.42M80.10 777.57L80.10 791.26M80.10 777.57L83.40 777.57M83.40 769.29L83.40 785.86M83.40 769.29L86.20 769.29M86.20 766.54L86.20 772.04M86.20 766.54L88.92 766.54M88.92 763.80L88.92 769.29M88.92 763.80L91.64 763.80M91.64 761.05L91.64 766.54M91.64 761.05L94.36 761.05M94.36 758.31L94.36 763.80M94.36 758.31L97.08 758.31M97.08 755.56L97.08 761.05M97.08 755.56L99.80 755.56M99.80 752.81L99.80 758.31M99.80 752.81L102.51 752.81M102.51 750.07L102.51 755.56M102.51 750.07L105.23 750.07M105.23 747.32L105.23 752.81M105.23 747.32L107.95 747.32M107.95 744.57L107.95 750.07M107.95 744.57L110.67 744.57M110.67 741.83L110.67 747.32M110.67 741.83L113.39 741.83M113.39 739.08L113.39 744.57M113.39 739.08L116.11 739.08M116.11 736.34L116.11 741.83M116.11 736.34L118.83 736.34M118.83 733.59L118.83 739.08M118.83 733.59L121.55 733.59M121.55 730.85L121.55 736.33M121.55 730.85L124.27 730.85M124.27 728.12L124.27 733.59M124.27 728.12L126.99 728.12M126.99 725.39L126.99 730.84M126.99 725.39L129.70 725.39M129.70 722.69L129.70 728.09M129.70 722.69L132.42 722.69M132.42 720.03L132.42 725.35M132.42 720.03L135.14 720.03M135.14 717.45L135.14 722.60M135.14 717.45L137.86 717.45M137.86 715.05L137.86 719.86M137.86 715.05L140.58 715.05M140.58 712.99L140.58 717.11M140.58 712.99L143.30 712.99M143.30 711.62L143.30 714.36M143.30 711.62L146.00 711.62M143.30 714.36L146.00 714.36M140.58 717.11L146.00 717.11M137.86 719.86L146.00 719.86M135.14 722.60L146.00 722.60M132.42 725.35L146.00 725.35M129.70 728.09L146.00 728.09M126.99 730.84L146.00 730.84M124.27 733.59L146.00 733.59M121.55 736.33L146.00 736.33M118.83 739.08L146.00 739.08M116.11 741.83L146.00 741.83M113.39 744.57L146.00 744.57M110.67 747.32L146.00 747.32M107.95 750.07L146.00 750.07M105.23 752.81L146.00 752.81M102.51 755.56L146.00 755.56M99.80 758.31L146.00 758.31M97.08 761.05L146.00 761.05M94.36 763.80L146.00 763.80M91.64 766.54L146.00 766.54M88.92 769.29L146.00 769.29M86.20 772.04L146.00 772.04M83.40 785.86L134.00 785.86M134.00 783.19L134.00 788.52M134.00 783.19L136.32 783.19M136.32 780.62L136.32 785.77M136.32 780.62L138.65 780.62M138.65 778.22L138.65 783.02M138.65 778.22L140.98 778.22M140.98 776.16L140.98 780.28M140.98 776.16L143.30 776.16M143.30 774.78L143.30 777.53M143.30 774.78L146.00 774.78M143.30 777.53L146.00 777.53M140.98 780.28L146.00 780.28M138.65 783.02L146.00 783.02M136.32 785.77L146.00 785.77M134.00 788.52L146.00 788.52M80.10 791.26L146.00 791.26M77.30 794.01L146.00 794.01M72.10 796.75L146.00 796.75M69.40 799.50L146.00 799.50M66.50 802.25L146.00 802.25M63.80 804.99L146.00 804.99M61.20 807.74L146.00 807.74M55.60 947.00L55.60 956.05M55.60 947.00L58.70 947.00M58.70 940.70L58.70 953.30M58.70 940.70L61.00 940.70M61.00 930.84L61.00 950.55M61.00 930.84L63.80 930.84M63.80 913.87L63.80 947.81M63.80 913.87L66.40 913.87M66.40 882.68L66.40 945.06M66.40 882.68L69.40 882.68M69.40 826.99L69.40 938.37M69.40 826.99L126.70 826.99M126.70 824.26L126.70 829.71M126.70 824.26L129.47 824.26M129.47 821.56L129.47 826.97M129.47 821.56L132.23 821.56M132.23 818.90L132.23 824.22M132.23 818.90L135.00 818.90M135.00 816.32L135.00 821.47M135.00 816.32L137.77 816.32M137.77 813.92L137.77 818.73M137.77 813.92L140.53 813.92M140.53 811.86L140.53 815.98M140.53 811.86L143.30 811.86M143.30 810.49L143.30 813.23M143.30 810.49L146.00 810.49M143.30 813.23L146.00 813.23M140.53 815.98L146.00 815.98M137.77 818.73L146.00 818.73M135.00 821.47L146.00 821.47M132.23 824.22L146.00 824.22M129.47 826.97L146.00 826.97M126.70 829.71L146.00 829.71M69.40 938.37L72.50 938.37M72.50 934.42L72.50 942.31M72.50 934.42L75.00 934.42M75.00 929.27L75.00 939.57M75.00 929.27L77.60 929.27M77.60 921.72L77.60 936.82M77.60 921.72L80.40 921.72M80.40 909.36L80.40 934.07M80.40 909.36L83.40 909.36M83.40 890.13L83.40 928.58M83.40 890.13L86.00 890.13M86.00 887.39L86.00 892.88M86.00 887.39L88.73 887.39M88.73 884.64L88.73 890.13M88.73 884.64L91.46 884.64M91.46 881.89L91.46 887.39M91.46 881.89L94.19 881.89M94.19 879.15L94.19 884.64M94.19 879.15L96.91 879.15M96.91 876.40L96.91 881.89M96.91 876.40L99.64 876.40M99.64 873.65L99.64 879.15M99.64 873.65L102.37 873.65M102.37 870.91L102.37 876.40M102.37 870.91L105.10 870.91M105.10 868.16L105.10 873.65M105.10 868.16L107.83 868.16M107.83 865.42L107.83 870.91M107.83 865.42L110.56 865.42M110.56 862.67L110.56 868.16M110.56 862.67L113.29 862.67M113.29 859.92L113.29 865.41M113.29 859.92L116.01 859.92M116.01 857.18L116.01 862.67M116.01 857.18L118.74 857.18M118.74 854.43L118.74 859.92M118.74 854.43L121.47 854.43M121.47 851.69L121.47 857.18M121.47 851.69L124.20 851.69M124.20 848.96L124.20 854.43M124.20 848.96L126.93 848.96M126.93 846.23L126.93 851.68M126.93 846.23L129.66 846.23M129.66 843.53L129.66 848.94M129.66 843.53L132.39 843.53M132.39 840.87L132.39 846.19M132.39 840.87L135.11 840.87M135.11 838.29L135.11 843.44M135.11 838.29L137.84 838.29M137.84 835.89L137.84 840.70M137.84 835.89L140.57 835.89M140.57 833.83L140.57 837.95M140.57 833.83L143.30 833.83M143.30 832.46L143.30 835.20M143.30 832.46L146.00 832.46M143.30 835.20L146.00 835.20M140.57 837.95L146.00 837.95M137.84 840.70L146.00 840.70M135.11 843.44L146.00 843.44M132.39 846.19L146.00 846.19M129.66 848.94L146.00 848.94M126.93 851.68L146.00 851.68M124.20 854.43L146.00 854.43M121.47 857.18L146.00 857.18M118.74 859.92L146.00 859.92M116.01 862.67L146.00 862.67M113.29 865.41L146.00 865.41M110.56 868.16L146.00 868.16M107.83 870.91L146.00 870.91M105.10 873.65L146.00 873.65M102.37 876.40L146.00 876.40M99.64 879.15L146.00 879.15M96.91 881.89L146.00 881.89M94.19 884.64L146.00 884.64M91.46 887.39L146.00 887.39M88.73 890.13L146.00 890.13M86.00 892.88L146.00 892.88M83.40 928.58L109.70 928.58M109.70 925.84L109.70 931.33M109.70 925.84L112.50 925.84M112.50 923.09L112.50 928.58M112.50 923.09L115.30 923.09M115.30 920.35L115.30 925.84M115.30 920.35L118.10 920.35M118.10 917.60L118.10 923.09M118.10 917.60L120.90 917.60M120.90 914.86L120.90 920.34M120.90 914.86L123.70 914.86M123.70 912.13L123.70 917.60M123.70 912.13L126.50 912.13M126.50 909.40L126.50 914.85M126.50 909.40L129.30 909.40M129.30 906.70L129.30 912.10M129.30 906.70L132.10 906.70M132.10 904.04L132.10 909.36M132.10 904.04L134.90 904.04M134.90 901.46L134.90 906.61M134.90 901.46L137.70 901.46M137.70 899.06L137.70 903.86M137.70 899.06L140.50 899.06M140.50 897.00L140.50 901.12M140.50 897.00L143.30 897.00M143.30 895.63L143.30 898.37M143.30 895.63L146.00 895.63M143.30 898.37L146.00 898.37M140.50 901.12L146.00 901.12M137.70 903.86L146.00 903.86M134.90 906.61L146.00 906.61M132.10 909.36L146.00 909.36M129.30 912.10L146.00 912.10M126.50 914.85L146.00 914.85M123.70 917.60L146.00 917.60M120.90 920.34L146.00 920.34M118.10 923.09L146.00 923.09M115.30 925.84L146.00 925.84M112.50 928.58L146.00 928.58M109.70 931.33L146.00 931.33M80.40 934.07L146.00 934.07M77.60 936.82L146.00 936.82M75.00 939.57L146.00 939.57M72.50 942.31L146.00 942.31M66.40 945.06L146.00 945.06M63.80 947.81L146.00 947.81M61.00 950.55L146.00 950.55M58.70 953.30L146.00 953.30M55.60 956.05L146.00 956.05" fill="none" stroke="#8684cb" stroke-width="1" clip-path="url(#tc)"/>
<path d="M14.50 228.25L146.00 228.25M14.50 228.25L14.50 470.00M14.50 470.00L17.35 470.00M17.35 321.80L17.35 618.40M17.35 321.80L77.60 321.80M17.35 618.40L19.65 618.40M19.65 467.50L19.65 769.40M19.65 467.50L22.90 467.50M19.65 769.40L44.50 769.40M44.50 589.70L44.50 950.50M44.50 589.70L47.40 589.70M44.50 950.50L55.60 950.50M47.40 551.00L47.40 626.30M47.40 551.00L66.70 551.00M47.40 626.30L50.40 626.30" fill="none" stroke="#17173c" stroke-width="1.5" stroke-linecap="square"/>
<rect x="146.0" y="226.7" width="343.2" height="729.8" fill="#808080"/>
<g clip-path="url(#hc)"><g>
<rect x="146.0" y="220.7" width="343.2" height="741.8" fill="#808080"/>
<rect x="146.0" y="228.80" width="68.4" height="7.95" fill="#731214"/>
<rect x="146.0" y="236.00" width="68.4" height="4.75" fill="#6b0f11"/>
<rect x="146.0" y="240.00" width="68.4" height="6.75" fill="#751315"/>
<rect x="146.0" y="246.00" width="68.4" height="4.75" fill="#6c1011"/>
<rect x="146.0" y="250.00" width="68.4" height="7.75" fill="#731214"/>
<rect x="146.0" y="257.00" width="68.4" height="5.75" fill="#690f10"/>
<rect x="146.0" y="262.00" width="68.4" height="8.75" fill="#6e1012"/>
<rect x="146.0" y="270.00" width="68.4" height="5.75" fill="#680e10"/>
<rect x="146.0" y="275.00" width="68.4" height="9.75" fill="#6c1011"/>
<rect x="146.0" y="284.00" width="68.4" height="6.75" fill="#670e0f"/>
<rect x="146.0" y="290.00" width="68.4" height="10.75" fill="#6c1011"/>
<rect x="146.0" y="300.00" width="68.4" height="6.75" fill="#680e10"/>
<rect x="146.0" y="306.00" width="68.4" height="9.75" fill="#6b0f11"/>
<rect x="146.0" y="315.00" width="68.4" height="5.75" fill="#660d0f"/>
<rect x="146.0" y="320.00" width="68.4" height="7.95" fill="#6a0f10"/>
<rect x="146.0" y="355.20" width="68.4" height="3.05" fill="#5a0c0d"/>
<rect x="146.0" y="407.20" width="68.4" height="3.05" fill="#5c0b0c"/>
<rect x="146.0" y="656.90" width="68.4" height="3.05" fill="#4c090a"/>
<rect x="146.0" y="690.10" width="68.4" height="3.05" fill="#4c090a"/>
<rect x="146.0" y="717.50" width="68.4" height="3.05" fill="#5a0b0c"/>
<rect x="146.0" y="813.80" width="68.4" height="3.05" fill="#6a0c0e"/>
<rect x="146.0" y="833.10" width="68.4" height="3.05" fill="#5a0a0c"/>
<rect x="146.0" y="868.80" width="68.4" height="3.05" fill="#5a0a0c"/>
<rect x="146.0" y="893.20" width="68.4" height="3.05" fill="#5a0a0c"/>
<rect x="214.4" y="231.40" width="68.6" height="3.05" fill="#941214"/>
<rect x="214.4" y="258.70" width="68.6" height="3.05" fill="#991316"/>
<rect x="214.4" y="299.90" width="68.6" height="3.05" fill="#9d1416"/>
<rect x="214.4" y="575.00" width="68.6" height="3.05" fill="#5a0c0d"/>
<rect x="214.4" y="808.30" width="68.6" height="3.05" fill="#7a0e10"/>
<rect x="214.4" y="832.90" width="68.6" height="3.05" fill="#961316"/>
<rect x="214.4" y="855.00" width="68.6" height="3.05" fill="#8c1114"/>
<rect x="214.4" y="918.10" width="68.6" height="3.05" fill="#7a0d10"/>
<rect x="214.4" y="327.85" width="68.6" height="3.67" fill="#a5181d"/>
<rect x="214.4" y="330.77" width="68.6" height="3.67" fill="#961418"/>
<rect x="214.4" y="333.70" width="68.6" height="3.67" fill="#811014"/>
<rect x="214.4" y="336.62" width="68.6" height="5.87" fill="#a51a1e"/>
<rect x="214.4" y="341.74" width="68.6" height="4.40" fill="#9d171b"/>
<rect x="214.4" y="345.39" width="68.6" height="6.60" fill="#a71a1f"/>
<rect x="214.4" y="351.24" width="68.6" height="4.40" fill="#961619"/>
<rect x="214.4" y="354.89" width="68.6" height="4.40" fill="#811216"/>
<rect x="214.4" y="358.55" width="68.6" height="4.40" fill="#871418"/>
<rect x="214.4" y="362.20" width="68.6" height="8.79" fill="#90161a"/>
<rect x="214.4" y="370.25" width="68.6" height="16.83" fill="#9d181c"/>
<rect x="214.4" y="386.33" width="68.6" height="5.87" fill="#720f12"/>
<rect x="214.4" y="391.44" width="68.6" height="10.98" fill="#b41d21"/>
<rect x="214.4" y="401.68" width="68.6" height="5.14" fill="#740f12"/>
<rect x="214.4" y="406.06" width="68.6" height="8.79" fill="#8d1417"/>
<rect x="214.4" y="414.11" width="68.6" height="6.60" fill="#a0191d"/>
<rect x="214.4" y="419.95" width="68.6" height="6.60" fill="#781014"/>
<rect x="214.4" y="425.80" width="68.6" height="10.98" fill="#901619"/>
<rect x="214.4" y="436.04" width="68.6" height="8.79" fill="#650d10"/>
<rect x="214.4" y="444.08" width="68.6" height="5.87" fill="#96161a"/>
<rect x="214.4" y="449.19" width="68.6" height="9.52" fill="#a5191d"/>
<rect x="214.4" y="457.96" width="68.6" height="7.33" fill="#8e1418"/>
<rect x="214.4" y="464.54" width="68.6" height="6.04" fill="#9a161a"/>
<rect x="283.0" y="228.50" width="68.9" height="3.05" fill="#d42022"/>
<rect x="283.0" y="262.00" width="68.9" height="3.05" fill="#5a0a0c"/>
<rect x="283.0" y="327.80" width="68.9" height="3.05" fill="#c81e20"/>
<rect x="283.0" y="349.60" width="68.9" height="3.05" fill="#b01618"/>
<rect x="283.0" y="407.20" width="68.9" height="3.05" fill="#800e10"/>
<rect x="283.0" y="451.40" width="68.9" height="3.05" fill="#5a080a"/>
<rect x="283.0" y="610.50" width="68.9" height="3.05" fill="#5e0c0e"/>
<rect x="283.0" y="616.00" width="68.9" height="3.05" fill="#6a0c0e"/>
<rect x="283.0" y="632.60" width="68.9" height="3.05" fill="#6a0c0e"/>
<rect x="283.0" y="665.20" width="68.9" height="3.05" fill="#700e10"/>
<rect x="283.0" y="690.60" width="68.9" height="3.05" fill="#840e10"/>
<rect x="283.0" y="808.50" width="68.9" height="10.02" fill="#d01c22"/>
<rect x="283.0" y="817.77" width="68.9" height="9.25" fill="#5e0c10"/>
<rect x="283.0" y="826.28" width="68.9" height="6.16" fill="#8a1216"/>
<rect x="283.0" y="831.68" width="68.9" height="6.16" fill="#c41a1e"/>
<rect x="283.0" y="837.09" width="68.9" height="6.16" fill="#a4161a"/>
<rect x="283.0" y="842.50" width="68.9" height="4.61" fill="#c41a20"/>
<rect x="283.0" y="846.37" width="68.9" height="4.61" fill="#a8161c"/>
<rect x="283.0" y="850.23" width="68.9" height="9.25" fill="#dc1c22"/>
<rect x="283.0" y="858.73" width="68.9" height="5.39" fill="#7a0e12"/>
<rect x="283.0" y="863.37" width="68.9" height="12.34" fill="#ee1c24"/>
<rect x="283.0" y="874.96" width="68.9" height="6.93" fill="#5e0a0e"/>
<rect x="283.0" y="881.14" width="68.9" height="6.16" fill="#b0181c"/>
<rect x="283.0" y="886.55" width="68.9" height="5.39" fill="#a0161a"/>
<rect x="283.0" y="891.19" width="68.9" height="7.71" fill="#7c1014"/>
<rect x="283.0" y="898.15" width="68.9" height="6.16" fill="#b8181e"/>
<rect x="283.0" y="903.55" width="68.9" height="3.84" fill="#801014"/>
<rect x="283.0" y="906.65" width="68.9" height="5.39" fill="#9c1418"/>
<rect x="283.0" y="911.28" width="68.9" height="6.93" fill="#6a0c10"/>
<rect x="283.0" y="917.47" width="68.9" height="6.93" fill="#7a1014"/>
<rect x="283.0" y="923.65" width="68.9" height="5.39" fill="#6c0c10"/>
<rect x="283.0" y="928.28" width="68.9" height="11.57" fill="#7e1014"/>
<rect x="283.0" y="939.10" width="68.9" height="7.71" fill="#5e0a0e"/>
<rect x="283.0" y="946.06" width="68.9" height="4.07" fill="#9a1418"/>
<rect x="283.0" y="949.38" width="68.9" height="3.96" fill="#c81a20"/>
<rect x="283.0" y="952.58" width="68.9" height="3.96" fill="#5e0a0e"/>
<rect x="351.9" y="470.95" width="68.6" height="2.76" fill="#9a1216"/>
<rect x="351.9" y="472.96" width="68.6" height="8.48" fill="#e01c22"/>
<rect x="351.9" y="480.68" width="68.6" height="3.07" fill="#b8181c"/>
<rect x="351.9" y="483.00" width="68.6" height="6.93" fill="#d01c20"/>
<rect x="351.9" y="489.18" width="68.6" height="6.16" fill="#8c1418"/>
<rect x="351.9" y="494.59" width="68.6" height="5.39" fill="#6e0e12"/>
<rect x="351.9" y="499.23" width="68.6" height="3.84" fill="#c81a1e"/>
<rect x="351.9" y="502.32" width="68.6" height="13.89" fill="#dc1c22"/>
<rect x="351.9" y="515.46" width="68.6" height="6.93" fill="#6a0c10"/>
<rect x="351.9" y="521.64" width="68.6" height="8.48" fill="#d81c22"/>
<rect x="351.9" y="529.37" width="68.6" height="5.39" fill="#8e1216"/>
<rect x="351.9" y="534.01" width="68.6" height="8.48" fill="#e81c24"/>
<rect x="351.9" y="541.73" width="68.6" height="13.11" fill="#c81a20"/>
<rect x="351.9" y="554.10" width="68.6" height="6.16" fill="#7a1014"/>
<rect x="351.9" y="559.51" width="68.6" height="12.34" fill="#c41a20"/>
<rect x="351.9" y="571.10" width="68.6" height="3.84" fill="#8a1216"/>
<rect x="351.9" y="574.19" width="68.6" height="10.80" fill="#cc1c20"/>
<rect x="351.9" y="584.24" width="68.6" height="4.61" fill="#901418"/>
<rect x="351.9" y="588.10" width="68.6" height="11.57" fill="#c01a1e"/>
<rect x="351.9" y="598.92" width="68.6" height="3.84" fill="#a01418"/>
<rect x="351.9" y="602.01" width="68.6" height="5.39" fill="#b4181c"/>
<rect x="351.9" y="606.65" width="68.6" height="4.38" fill="#6a0c10"/>
<rect x="351.9" y="618.70" width="68.6" height="3.05" fill="#6a0c10"/>
<rect x="351.9" y="630.00" width="68.6" height="3.05" fill="#7a0e12"/>
<rect x="351.9" y="651.80" width="68.6" height="3.05" fill="#981216"/>
<rect x="351.9" y="682.20" width="68.6" height="3.05" fill="#5a0a0c"/>
<rect x="351.9" y="742.60" width="68.6" height="3.05" fill="#4a0608"/>
<rect x="351.9" y="772.70" width="68.6" height="3.05" fill="#5a080a"/>
<rect x="351.9" y="813.70" width="68.6" height="3.05" fill="#c0181c"/>
<rect x="351.9" y="696.50" width="68.6" height="4.25" fill="#780e12"/>
<rect x="420.5" y="396.60" width="68.7" height="3.05" fill="#c81a1c"/>
<rect x="420.5" y="470.80" width="68.7" height="3.05" fill="#b01818"/>
<rect x="420.5" y="478.90" width="68.7" height="3.05" fill="#6a0c0e"/>
<rect x="420.5" y="492.60" width="68.7" height="3.05" fill="#b01618"/>
<rect x="420.5" y="539.00" width="68.7" height="3.05" fill="#d01c1e"/>
<rect x="420.5" y="558.40" width="68.7" height="3.05" fill="#7a0e10"/>
<rect x="420.5" y="580.00" width="68.7" height="3.05" fill="#bc1818"/>
<rect x="420.5" y="591.70" width="68.7" height="3.05" fill="#841014"/>
<rect x="420.5" y="813.70" width="68.7" height="3.05" fill="#c0181c"/>
<rect x="420.5" y="915.00" width="68.7" height="3.05" fill="#c81a1c"/>
<rect x="420.5" y="604.95" width="68.7" height="5.08" fill="#7c0e12"/>
<rect x="420.5" y="609.27" width="68.7" height="8.48" fill="#cc1c22"/>
<rect x="420.5" y="617.00" width="68.7" height="3.84" fill="#b0181c"/>
<rect x="420.5" y="620.09" width="68.7" height="6.16" fill="#c81c20"/>
<rect x="420.5" y="625.50" width="68.7" height="6.16" fill="#981418"/>
<rect x="420.5" y="630.91" width="68.7" height="17.75" fill="#e41c24"/>
<rect x="420.5" y="647.91" width="68.7" height="3.84" fill="#cc1a20"/>
<rect x="420.5" y="651.00" width="68.7" height="19.30" fill="#e81c24"/>
<rect x="420.5" y="669.55" width="68.7" height="5.39" fill="#c4181e"/>
<rect x="420.5" y="674.19" width="68.7" height="8.48" fill="#d81c22"/>
<rect x="420.5" y="681.92" width="68.7" height="11.57" fill="#ea1c24"/>
<rect x="420.5" y="692.74" width="68.7" height="5.39" fill="#b4181c"/>
<rect x="420.5" y="697.37" width="68.7" height="5.39" fill="#dc1c22"/>
<rect x="420.5" y="702.01" width="68.7" height="10.02" fill="#b8181e"/>
<rect x="420.5" y="711.28" width="68.7" height="6.93" fill="#e01c22"/>
<rect x="420.5" y="717.47" width="68.7" height="6.93" fill="#cc1a20"/>
<rect x="420.5" y="723.65" width="68.7" height="6.93" fill="#d81c22"/>
<rect x="420.5" y="729.83" width="68.7" height="5.39" fill="#b0161c"/>
<rect x="420.5" y="699.23" width="68.7" height="5.39" fill="#dc1c22"/>
<rect x="420.5" y="703.86" width="68.7" height="3.84" fill="#b4181c"/>
<rect x="420.5" y="706.96" width="68.7" height="3.07" fill="#d01a20"/>
<rect x="420.5" y="709.27" width="68.7" height="3.84" fill="#a8161a"/>
<rect x="420.5" y="712.36" width="68.7" height="8.48" fill="#e01c22"/>
<rect x="420.5" y="720.09" width="68.7" height="3.84" fill="#c41a1e"/>
<rect x="420.5" y="723.18" width="68.7" height="8.48" fill="#dc1c22"/>
<rect x="420.5" y="730.91" width="68.7" height="4.61" fill="#a8161a"/>
<rect x="420.5" y="734.78" width="68.7" height="31.66" fill="#ea1c24"/>
<rect x="420.5" y="765.69" width="68.7" height="4.61" fill="#9a1418"/>
<rect x="420.5" y="769.55" width="68.7" height="14.66" fill="#e81c24"/>
<rect x="420.5" y="783.46" width="68.7" height="3.84" fill="#c01a1e"/>
<rect x="420.5" y="786.55" width="68.7" height="7.71" fill="#9c1418"/>
<rect x="420.5" y="793.51" width="68.7" height="3.84" fill="#d41c20"/>
<rect x="420.5" y="796.60" width="68.7" height="4.61" fill="#b0181c"/>
<rect x="420.5" y="800.46" width="68.7" height="6.16" fill="#e01c22"/>
<rect x="420.5" y="805.87" width="68.7" height="2.37" fill="#8a1014"/>
</g></g>
<g class="t" transform="scale(0.1)">
<text transform="translate(5030 2288.5) rotate(0.04)">embryonic limb morphogenesis</text>
<text transform="translate(5030 2316.0) rotate(0.04)">synaptic transmission</text>
<text transform="translate(5030 2343.4) rotate(0.04)">cellular calcium ion homeostasis</text>
<text transform="translate(5030 2370.9) rotate(0.04)">dorsal ventral pattern formation</text>
<text transform="translate(5030 2398.4) rotate(0.04)">regulation of actin cytoskeleton and actin-based movement</text>
<text transform="translate(5030 2425.8) rotate(0.04)">muscle organ development</text>
<text transform="translate(5030 2453.3) rotate(0.04)">cytokine production</text>
<text transform="translate(5030 2480.7) rotate(0.04)">protein ubiquitination</text>
<text transform="translate(5030 2508.2) rotate(0.04)">exocytosis</text>
<text transform="translate(5030 2535.7) rotate(0.04)">Notch signaling pathway</text>
<text transform="translate(5030 2563.1) rotate(0.04)">protein modification process</text>
<text transform="translate(5030 2590.6) rotate(0.04)">G-protein coupled receptor protein signaling pathway</text>
<text transform="translate(5030 2618.1) rotate(0.04)">response protein localization nucleus</text>
<text transform="translate(5030 2645.5) rotate(0.04)">response to virus</text>
<text transform="translate(5030 2673.0) rotate(0.04)">transmembrane receptor protein serine threonine kinase signaling pathway</text>
<text transform="translate(5030 2700.5) rotate(0.04)">RNA splicing</text>
<text transform="translate(5030 2727.9) rotate(0.04)">learning and memory</text>
<text transform="translate(5030 2755.4) rotate(0.04)">cell cycle</text>
<text transform="translate(5030 2782.9) rotate(0.04)">regulation of Ras protein signal transduction</text>
<text transform="translate(5030 2810.3) rotate(0.04)">neuron migration</text>
<text transform="translate(5030 2837.8) rotate(0.04)">regulation of heart contraction</text>
<text transform="translate(5030 2865.2) rotate(0.04)">regulation of small GTPase mediated signal transduction</text>
<text transform="translate(5030 2892.7) rotate(0.04)">protein amino acid dephosphorylation</text>
<text transform="translate(5030 2920.2) rotate(0.04)">protein modification process</text>
<text transform="translate(5030 2947.6) rotate(0.04)">DNA replication</text>
<text transform="translate(5030 2975.1) rotate(0.04)">defense response</text>
<text transform="translate(5030 3002.6) rotate(0.04)">neuron migration</text>
<text transform="translate(5030 3030.0) rotate(0.04)">ion homeostasis</text>
<text transform="translate(5030 3057.5) rotate(0.04)">cellular calcium ion homeostasis</text>
<text transform="translate(5030 3085.0) rotate(0.04)">transmembrane receptor protein tyrosine kinase</text>
<text transform="translate(5030 3112.4) rotate(0.04)">positive regulation of transcription</text>
<text transform="translate(5030 3139.9) rotate(0.04)">regulation of protein kinase activity</text>
<text transform="translate(5030 3167.3) rotate(0.04)">phosphoinositide mediated signaling</text>
<text transform="translate(5030 3194.8) rotate(0.04)">regulation of protein kinase activity</text>
<text transform="translate(5030 3222.3) rotate(0.04)">Rho protein signal transduction</text>
<text transform="translate(5030 3249.7) rotate(0.04)">hemopoiesis</text>
<text transform="translate(5030 3277.2) rotate(0.04)">protein modification process</text>
<text transform="translate(5030 3304.7) rotate(0.04)">DNA replication</text>
<text transform="translate(5030 3332.1) rotate(0.04)">learning and memory</text>
<text transform="translate(5030 3359.6) rotate(0.04)">cytoskeleton organization</text>
<text transform="translate(5030 3387.1) rotate(0.04)">response protein localization nucleus</text>
<text transform="translate(5030 3414.5) rotate(0.04)">cell proliferation</text>
<text transform="translate(5030 3442.0) rotate(0.04)">response to drugs</text>
<text transform="translate(5030 3469.5) rotate(0.04)">epidermal growth factor receptor signaling pathway</text>
<text transform="translate(5030 3496.9) rotate(0.04)">synaptic transmission</text>
<text transform="translate(5030 3524.4) rotate(0.04)">cell division</text>
<text transform="translate(5030 3551.8) rotate(0.04)">glycoprotein biosynthetic process</text>
<text transform="translate(5030 3579.3) rotate(0.04)">regulation of actin cytoskeleton and actin-based movement</text>
<text transform="translate(5030 3606.8) rotate(0.04)">histone deacetylation</text>
<text transform="translate(5030 3634.2) rotate(0.04)">cell migration</text>
<text transform="translate(5030 3661.7) rotate(0.04)">ER to Golgi vesicle mediated transport</text>
<text transform="translate(5030 3689.2) rotate(0.04)">synaptic transmission</text>
<text transform="translate(5030 3716.6) rotate(0.04)">insulin receptor signaling pathway</text>
<text transform="translate(5030 3744.1) rotate(0.04)">mitosis</text>
<text transform="translate(5030 3771.6) rotate(0.04)">B cell differentiation</text>
<text transform="translate(5030 3799.0) rotate(0.04)">bone marrow growth</text>
<text transform="translate(5030 3826.5) rotate(0.04)">phosphoinositide mediated signaling</text>
<text transform="translate(5030 3853.9) rotate(0.04)">aging</text>
<text transform="translate(5030 3881.4) rotate(0.04)">phosphoinositide mediated signaling</text>
<text transform="translate(5030 3908.9) rotate(0.04)">embryonic limb morphogenesis</text>
<text transform="translate(5030 3936.3) rotate(0.04)">epidermal growth factor receptor signaling pathway</text>
<text transform="translate(5030 3963.8) rotate(0.04)">regulation of actin cytoskeleton and actin-based movement</text>
<text transform="translate(5030 3991.3) rotate(0.04)">regulation of transcription DNA dependent</text>
<text transform="translate(5030 4018.7) rotate(0.04)">response to DNA damage stimulus</text>
<text transform="translate(5030 4046.2) rotate(0.04)">apoptotic process</text>
<text transform="translate(5030 4073.7) rotate(0.04)">regulation of Rab GTPase activity</text>
<text transform="translate(5030 4101.1) rotate(0.04)">regulation of translation</text>
<text transform="translate(5030 4128.6) rotate(0.04)">regulation of Ras protein signal transduction</text>
<text transform="translate(5030 4156.1) rotate(0.04)">cytokine mediated signaling pathway</text>
<text transform="translate(5030 4183.5) rotate(0.04)">MAPKKK cascade</text>
<text transform="translate(5030 4211.0) rotate(0.04)">protein ubiquitination</text>
<text transform="translate(5030 4238.4) rotate(0.04)">metabolic process</text>
<text transform="translate(5030 4265.9) rotate(0.04)">angiogenesis</text>
<text transform="translate(5030 4293.4) rotate(0.04)">learning and memory</text>
<text transform="translate(5030 4320.8) rotate(0.04)">response to chemical stimulus</text>
<text transform="translate(5030 4348.3) rotate(0.04)">cell proliferation</text>
<text transform="translate(5030 4375.8) rotate(0.04)">regulation of gene expression epigenetic</text>
<text transform="translate(5030 4403.2) rotate(0.04)">protein modification process</text>
<text transform="translate(5030 4430.7) rotate(0.04)">DNA replication</text>
<text transform="translate(5030 4458.2) rotate(0.04)">positive regulation of transcription from RNA polymerase II prom</text>
<text transform="translate(5030 4485.6) rotate(0.04)">negative regulation of cell cycle</text>
<text transform="translate(5030 4513.1) rotate(0.04)">negative regulation of apoptosis induced cell death</text>
<text transform="translate(5030 4540.5) rotate(0.04)">cholesterol metabolic process</text>
<text transform="translate(5030 4568.0) rotate(0.04)">regulation of transcription from RNA polymerase II promoter</text>
<text transform="translate(5030 4595.5) rotate(0.04)">post Golgi vesicle mediated transport</text>
<text transform="translate(5030 4622.9) rotate(0.04)">neuron migration</text>
<text transform="translate(5030 4650.4) rotate(0.04)">regulation of cell migration</text>
<text transform="translate(5030 4677.9) rotate(0.04)">cellular ion homeostasis</text>
<text transform="translate(5030 4705.3) rotate(0.04)">nervous system development</text>
<text transform="translate(5030 4732.8) rotate(0.04)">regulation of transcription from RNA polymerase II promoter</text>
<text transform="translate(5030 4760.3) rotate(0.04)">exocytosis</text>
<text transform="translate(5030 4787.7) rotate(0.04)">response to virus</text>
<text transform="translate(5030 4815.2) rotate(0.04)">transmembrane receptor protein tyrosine kinase</text>
<text transform="translate(5030 4842.7) rotate(0.04)">steroid hormone receptor signaling pathway</text>
<text transform="translate(5030 4870.1) rotate(0.04)">regulation of gene expression epigenetic</text>
<text transform="translate(5030 4897.6) rotate(0.04)">cellular calcium ion homeostasis</text>
<text transform="translate(5030 4925.0) rotate(0.04)">response to drugs</text>
<text transform="translate(5030 4952.5) rotate(0.04)">metabolic process</text>
<text transform="translate(5030 4980.0) rotate(0.04)">angiogenesis</text>
<text transform="translate(5030 5007.4) rotate(0.04)">positive regulation of I-kappaB kinase NF-kappaB cascade</text>
<text transform="translate(5030 5034.9) rotate(0.04)">enzyme linked receptor protein signaling pathway, cell surface receptor linked signal transduction</text>
<text transform="translate(5030 5062.4) rotate(0.04)">defense response</text>
<text transform="translate(5030 5089.8) rotate(0.04)">neuron migration</text>
<text transform="translate(5030 5117.3) rotate(0.04)">response to chemical stimulus</text>
<text transform="translate(5030 5144.8) rotate(0.04)">vesicle mediated transport</text>
<text transform="translate(5030 5172.2) rotate(0.04)">response protein localization nucleus</text>
<text transform="translate(5030 5199.7) rotate(0.04)">cellular ion homeostasis</text>
<text transform="translate(5030 5227.1) rotate(0.04)">regulation of transcription from RNA polymerase II promoter</text>
<text transform="translate(5030 5254.6) rotate(0.04)">cell cycle</text>
<text transform="translate(5030 5282.1) rotate(0.04)">regulation of Ras protein signal transduction</text>
<text transform="translate(5030 5309.5) rotate(0.04)">cholesterol metabolic process</text>
<text transform="translate(5030 5337.0) rotate(0.04)">phosphoinositide mediated signaling</text>
<text transform="translate(5030 5364.5) rotate(0.04)">regulation of gene expression epigenetic</text>
<text transform="translate(5030 5391.9) rotate(0.04)">sodium ion transport</text>
<text transform="translate(5030 5419.4) rotate(0.04)">response to wounding</text>
<text transform="translate(5030 5446.9) rotate(0.04)">organ morphogenesis</text>
<text transform="translate(5030 5474.3) rotate(0.04)">mitosis</text>
<text transform="translate(5030 5501.8) rotate(0.04)">negative regulation of translation involved in gene silencing by miRNA</text>
<text transform="translate(5030 5529.3) rotate(0.04)">proteolysis</text>
<text transform="translate(5030 5556.7) rotate(0.04)">regulation of Ras protein signal transduction</text>
<text transform="translate(5030 5584.2) rotate(0.04)">protein amino acid phosphorylation</text>
<text transform="translate(5030 5611.6) rotate(0.04)">mitosis</text>
<text transform="translate(5030 5639.1) rotate(0.04)">muscle organ development</text>
<text transform="translate(5030 5666.6) rotate(0.04)">positive regulation of transcription</text>
<text transform="translate(5030 5694.0) rotate(0.04)">steroid hormone receptor signaling pathway</text>
<text transform="translate(5030 5721.5) rotate(0.04)">regulation of cell growth and size</text>
<text transform="translate(5030 5749.0) rotate(0.04)">phosphoinositide mediated signaling</text>
<text transform="translate(5030 5776.4) rotate(0.04)">nucleocytoplasmic transport</text>
<text transform="translate(5030 5803.9) rotate(0.04)">regulation of protein kinase activity</text>
<text transform="translate(5030 5831.4) rotate(0.04)">transmembrane receptor protein tyrosine kinase</text>
<text transform="translate(5030 5858.8) rotate(0.04)">JNK cascade</text>
<text transform="translate(5030 5886.3) rotate(0.04)">heart development</text>
<text transform="translate(5030 5913.7) rotate(0.04)">ER to Golgi vesicle mediated transport</text>
<text transform="translate(5030 5941.2) rotate(0.04)">embryonic limb morphogenesis</text>
<text transform="translate(5030 5968.7) rotate(0.04)">regulation of protein kinase activity</text>
<text transform="translate(5030 5996.1) rotate(0.04)">regulation of cyclin dependent protein kinase activity, G1 phase of mitotic cell cycle, S phase</text>
<text transform="translate(5030 6023.6) rotate(0.04)">regulation of cell growth and size</text>
<text transform="translate(5030 6051.1) rotate(0.04)">regulation of Ras protein signal transduction</text>
<text transform="translate(5030 6078.5) rotate(0.04)">steroid hormone receptor signaling pathway</text>
<text transform="translate(5030 6106.0) rotate(0.04)">phosphoinositide mediated signaling</text>
<text transform="translate(5030 6133.5) rotate(0.04)">transcription</text>
<text transform="translate(5030 6160.9) rotate(0.04)">cellular calcium ion homeostasis</text>
<text transform="translate(5030 6188.4) rotate(0.04)">defense response</text>
<text transform="translate(5030 6215.9) rotate(0.04)">response to virus</text>
<text transform="translate(5030 6243.3) rotate(0.04)">response protein localization nucleus</text>
<text transform="translate(5030 6270.8) rotate(0.04)">regulation of transcription from RNA polymerase II promoter</text>
<text transform="translate(5030 6298.2) rotate(0.04)">synaptic transmission</text>
<text transform="translate(5030 6325.7) rotate(0.04)">MAPKKK cascade</text>
<text transform="translate(5030 6353.2) rotate(0.04)">Rho protein signal transduction</text>
<text transform="translate(5030 6380.6) rotate(0.04)">phosphoinositide mediated signaling</text>
<text transform="translate(5030 6408.1) rotate(0.04)">regulation of protein kinase activity</text>
<text transform="translate(5030 6435.6) rotate(0.04)">regulation of transcription from RNA polymerase II promoter</text>
<text transform="translate(5030 6463.0) rotate(0.04)">regulation of cyclin dependent protein kinase activity</text>
<text transform="translate(5030 6490.5) rotate(0.04)">steroid hormone receptor signaling pathway</text>
<text transform="translate(5030 6518.0) rotate(0.04)">negative regulation of apoptosis induced cell death</text>
<text transform="translate(5030 6545.4) rotate(0.04)">cell migration</text>
<text transform="translate(5030 6572.9) rotate(0.04)">intracellular signaling cascade</text>
<text transform="translate(5030 6600.3) rotate(0.04)">protein modification process</text>
<text transform="translate(5030 6627.8) rotate(0.04)">transmembrane receptor protein serine threonine kinase signaling pathway</text>
<text transform="translate(5030 6655.3) rotate(0.04)">synaptic transmission</text>
<text transform="translate(5030 6682.7) rotate(0.04)">phosphoinositide mediated signaling</text>
<text transform="translate(5030 6710.2) rotate(0.04)">transmembrane receptor protein serine threonine kinase signaling pathway</text>
<text transform="translate(5030 6737.7) rotate(0.04)">phosphate metabolic process</text>
<text transform="translate(5030 6765.1) rotate(0.04)">regulation of transcription from RNA polymerase II promoter</text>
<text transform="translate(5030 6792.6) rotate(0.04)">B cell differentiation</text>
<text transform="translate(5030 6820.1) rotate(0.04)">embryonic limb morphogenesis</text>
<text transform="translate(5030 6847.5) rotate(0.04)">apoptotic process</text>
<text transform="translate(5030 6875.0) rotate(0.04)">Notch signaling pathway</text>
<text transform="translate(5030 6902.5) rotate(0.04)">positive regulation of epithelial cell proliferation involved in lung morphogenesis</text>
<text transform="translate(5030 6929.9) rotate(0.04)">neuron migration</text>
<text transform="translate(5030 6957.4) rotate(0.04)">regulation of gene expression epigenetic</text>
<text transform="translate(5030 6984.8) rotate(0.04)">cell proliferation</text>
<text transform="translate(5030 7012.3) rotate(0.04)">bone marrow growth</text>
<text transform="translate(5030 7039.8) rotate(0.04)">regulation of cell migration</text>
<text transform="translate(5030 7067.2) rotate(0.04)">epidermal growth factor receptor signaling pathway</text>
<text transform="translate(5030 7094.7) rotate(0.04)">ion membrane signal transduction</text>
<text transform="translate(5030 7122.2) rotate(0.04)">steroid hormone receptor signaling pathway</text>
<text transform="translate(5030 7149.6) rotate(0.04)">cholesterol metabolic process</text>
<text transform="translate(5030 7177.1) rotate(0.04)">neuron migration</text>
<text transform="translate(5030 7204.6) rotate(0.04)">regulation of cell shape</text>
<text transform="translate(5030 7232.0) rotate(0.04)">neurotransmitter secretion</text>
<text transform="translate(5030 7259.5) rotate(0.04)">gene silencing by miRNA</text>
<text transform="translate(5030 7286.9) rotate(0.04)">positive regulation of cell proliferation</text>
<text transform="translate(5030 7314.4) rotate(0.04)">ion membrane signal transduction</text>
<text transform="translate(5030 7341.9) rotate(0.04)">cellular ion homeostasis</text>
<text transform="translate(5030 7369.3) rotate(0.04)">muscle organ development</text>
<text transform="translate(5030 7396.8) rotate(0.04)">regulation of gene expression epigenetic</text>
<text transform="translate(5030 7424.3) rotate(0.04)">hemopoiesis</text>
<text transform="translate(5030 7451.7) rotate(0.04)">regulation of cell shape</text>
<text transform="translate(5030 7479.2) rotate(0.04)">response to chemical stimulus</text>
<text transform="translate(5030 7506.7) rotate(0.04)">cholesterol metabolic process</text>
<text transform="translate(5030 7534.1) rotate(0.04)">DNA repair</text>
<text transform="translate(5030 7561.6) rotate(0.04)">response to wounding</text>
<text transform="translate(5030 7589.1) rotate(0.04)">regulation of gene expression epigenetic</text>
<text transform="translate(5030 7616.5) rotate(0.04)">positive regulation of transcription from RNA polymerase II promoter</text>
<text transform="translate(5030 7644.0) rotate(0.04)">ER to Golgi vesicle mediated transport</text>
<text transform="translate(5030 7671.4) rotate(0.04)">response to chemical stimulus</text>
<text transform="translate(5030 7698.9) rotate(0.04)">neuron migration</text>
<text transform="translate(5030 7726.4) rotate(0.04)">transmembrane receptor protein tyrosine kinase</text>
<text transform="translate(5030 7753.8) rotate(0.04)">regulation of cell shape</text>
<text transform="translate(5030 7781.3) rotate(0.04)">protein import into nucleus</text>
<text transform="translate(5030 7808.8) rotate(0.04)">cell migration</text>
<text transform="translate(5030 7836.2) rotate(0.04)">wound healing</text>
<text transform="translate(5030 7863.7) rotate(0.04)">metabolic process</text>
<text transform="translate(5030 7891.2) rotate(0.04)">cellular ion homeostasis</text>
<text transform="translate(5030 7918.6) rotate(0.04)">regulation of Ras protein signal transduction</text>
<text transform="translate(5030 7946.1) rotate(0.04)">cytoskeleton organization</text>
<text transform="translate(5030 7973.5) rotate(0.04)">regulation of Ras protein signal transduction</text>
<text transform="translate(5030 8001.0) rotate(0.04)">transmembrane receptor protein tyrosine kinase</text>
<text transform="translate(5030 8028.5) rotate(0.04)">regulation of transcription from RNA polymerase II promoter</text>
<text transform="translate(5030 8055.9) rotate(0.04)">phosphoinositide mediated signaling</text>
<text transform="translate(5030 8083.4) rotate(0.04)">bone marrow growth</text>
<text transform="translate(5030 8110.9) rotate(0.04)">phosphate metabolic process</text>
<text transform="translate(5030 8138.3) rotate(0.04)">muscle organ development</text>
<text transform="translate(5030 8165.8) rotate(0.04)">regulation of Ras protein signal transduction</text>
<text transform="translate(5030 8193.3) rotate(0.04)">mitosis</text>
<text transform="translate(5030 8220.7) rotate(0.04)">B cell differentiation</text>
<text transform="translate(5030 8248.2) rotate(0.04)">epidermal growth factor receptor signaling pathway</text>
<text transform="translate(5030 8275.7) rotate(0.04)">regulation of gene expression epigenetic</text>
<text transform="translate(5030 8303.1) rotate(0.04)">response to DNA damage stimulus</text>
<text transform="translate(5030 8330.6) rotate(0.04)">Rho protein signal transduction</text>
<text transform="translate(5030 8358.0) rotate(0.04)">negative regulation of transcription from RNA polymerase II promoter</text>
<text transform="translate(5030 8385.5) rotate(0.04)">ER to Golgi vesicle mediated transport</text>
<text transform="translate(5030 8413.0) rotate(0.04)">microtubule based movement</text>
<text transform="translate(5030 8440.4) rotate(0.04)">neurotransmitter secretion</text>
<text transform="translate(5030 8467.9) rotate(0.04)">regulation of Ras protein signal transduction</text>
<text transform="translate(5030 8495.4) rotate(0.04)">angiogenesis</text>
<text transform="translate(5030 8522.8) rotate(0.04)">regulation of cell growth and size</text>
<text transform="translate(5030 8550.3) rotate(0.04)">transmembrane receptor protein tyrosine kinase</text>
<text transform="translate(5030 8577.8) rotate(0.04)">rRNA processing</text>
<text transform="translate(5030 8605.2) rotate(0.04)">response to chemical stimulus</text>
<text transform="translate(5030 8632.7) rotate(0.04)">ion membrane signal transduction</text>
<text transform="translate(5030 8660.1) rotate(0.04)">neuron migration</text>
<text transform="translate(5030 8687.6) rotate(0.04)">chromatin modification</text>
<text transform="translate(5030 8715.1) rotate(0.04)">mitosis</text>
<text transform="translate(5030 8742.5) rotate(0.04)">synaptic transmission</text>
<text transform="translate(5030 8770.0) rotate(0.04)">cholesterol metabolic process</text>
<text transform="translate(5030 8797.5) rotate(0.04)">response to chemical stimulus</text>
<text transform="translate(5030 8824.9) rotate(0.04)">regulation of translation</text>
<text transform="translate(5030 8852.4) rotate(0.04)">ER to Golgi vesicle mediated transport</text>
<text transform="translate(5030 8879.9) rotate(0.04)">regulation of Ras protein signal transduction</text>
<text transform="translate(5030 8907.3) rotate(0.04)">histone deacetylation</text>
<text transform="translate(5030 8934.8) rotate(0.04)">negative regulation of cell proliferation</text>
<text transform="translate(5030 8962.3) rotate(0.04)">regulation of protein kinase activity</text>
<text transform="translate(5030 8989.7) rotate(0.04)">regulation of Ras protein signal transduction</text>
<text transform="translate(5030 9017.2) rotate(0.04)">regulation of protein kinase activity</text>
<text transform="translate(5030 9044.6) rotate(0.04)">glycoprotein biosynthetic process</text>
<text transform="translate(5030 9072.1) rotate(0.04)">intracellular signaling cascade</text>
<text transform="translate(5030 9099.6) rotate(0.04)">transmembrane receptor protein serine threonine kinase signaling pathway</text>
<text transform="translate(5030 9127.0) rotate(0.04)">neuron migration</text>
<text transform="translate(5030 9154.5) rotate(0.04)">transmembrane receptor protein serine threonine kinase signaling pathway, g</text>
<text transform="translate(5030 9182.0) rotate(0.04)">regulation of small GTPase mediated signal transduction</text>
<text transform="translate(5030 9209.4) rotate(0.04)">phosphoinositide mediated signaling</text>
<text transform="translate(5030 9236.9) rotate(0.04)">neuron migration</text>
<text transform="translate(5030 9264.4) rotate(0.04)">epidermal growth factor receptor signaling pathway</text>
<text transform="translate(5030 9291.8) rotate(0.04)">regulation of cell migration</text>
<text transform="translate(5030 9319.3) rotate(0.04)">response to chemical stimulus</text>
<text transform="translate(5030 9346.7) rotate(0.04)">ER to Golgi vesicle mediated transport</text>
<text transform="translate(5030 9374.2) rotate(0.04)">nucleoside phosphate and nucleotide metabolic processes</text>
<text transform="translate(5030 9401.7) rotate(0.04)">nervous system development</text>
<text transform="translate(5030 9429.1) rotate(0.04)">negative regulation of translation involved in gene silencing by miRNA</text>
<text transform="translate(5030 9456.6) rotate(0.04)">response protein localization nucleus</text>
<text transform="translate(5030 9484.1) rotate(0.04)">regulation of transcription from RNA polymerase II promoter, g</text>
<text transform="translate(5030 9511.5) rotate(0.04)">wound healing</text>
<text transform="translate(5030 9539.0) rotate(0.04)">cholesterol metabolic process</text>
<text transform="translate(5030 9566.5) rotate(0.04)">regulation of transcription from RNA polymerase II promoter</text>
</g>
</svg></body></html>
